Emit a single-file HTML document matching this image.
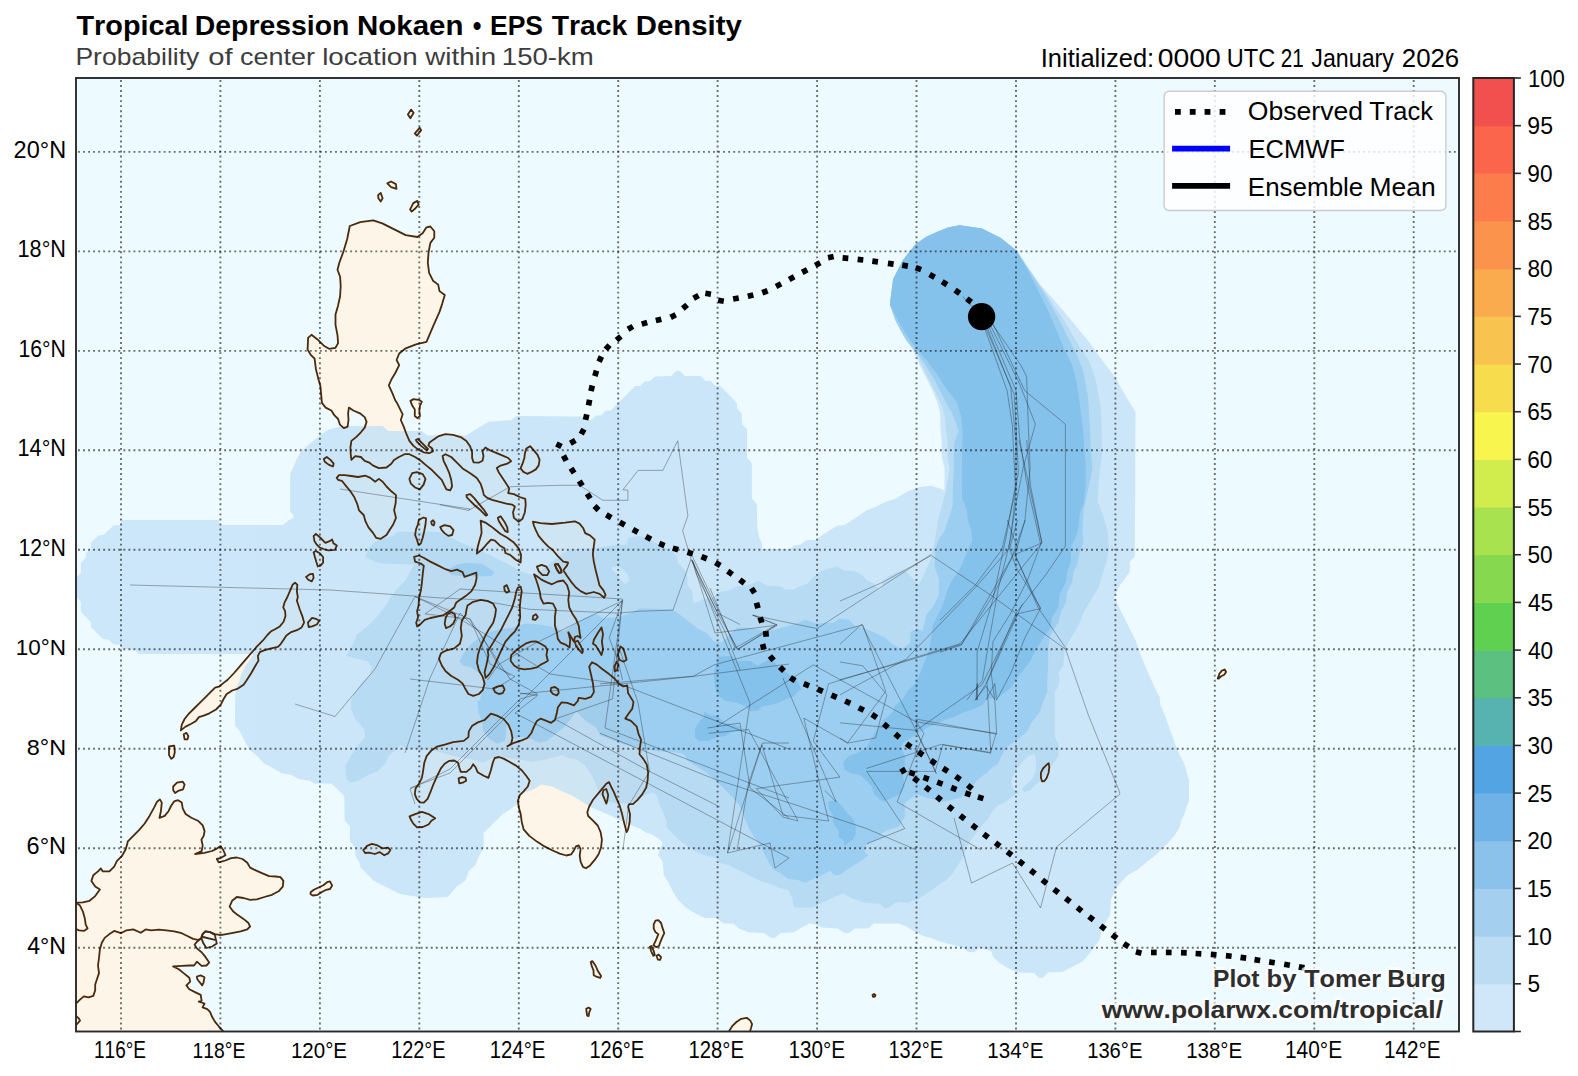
<!DOCTYPE html>
<html><head><meta charset="utf-8"><title>EPS Track Density</title>
<style>html,body{margin:0;padding:0;background:#fff}body{width:1578px;height:1076px;overflow:hidden;font-family:"Liberation Sans",sans-serif}svg{display:block}text{font-family:"Liberation Sans",sans-serif;font-kerning:none;font-variant-ligatures:none}</style>
</head><body>
<svg width="1578" height="1076" viewBox="0 0 1578 1076">
<defs><clipPath id="mc"><rect x="76" y="78" width="1383" height="953.5"/></clipPath></defs>
<rect x="0" y="0" width="1578" height="1076" fill="#ffffff"/>
<rect x="76" y="78" width="1383" height="953.5" fill="#edfaff"/>
<g clip-path="url(#mc)">
<g fill="#fdf5e8" stroke="none">
<polygon points="416.0,439.9 417.9,439.0 423.6,444.7 428.0,449.0 426.8,450.4 420.8,445.6 416.6,441.4"/>
<polygon points="410.4,400.9 413.5,399.1 418.7,399.8 421.9,401.7 420.0,405.6 419.3,410.8 420.0,416.0 417.4,418.1 414.8,416.0 414.8,409.5 412.2,405.6"/>
<polygon points="323.8,458.9 326.7,457.0 330.5,459.9 333.7,463.7 332.9,466.5 328.6,464.6 324.8,461.8"/>
<polygon points="336.7,477.9 339.0,475.1 344.7,475.1 351.4,476.0 358.0,477.0 365.6,475.7 370.4,477.9 375.1,481.7 378.9,478.9 382.7,481.7 386.5,486.5 391.3,491.3 396.0,495.1 395.7,502.7 394.1,510.3 396.0,517.9 393.2,524.5 389.4,530.2 386.5,535.0 380.8,538.8 376.1,537.8 373.2,533.1 368.5,527.4 365.6,521.7 363.7,515.0 359.0,510.3 357.1,503.6 354.2,497.0 350.4,491.3 345.7,485.6 341.9,480.8 338.1,479.8"/>
<polygon points="412.2,473.2 417.0,472.2 422.7,474.1 425.5,478.9 423.6,484.6 419.8,489.4 415.1,487.5 410.9,483.7 409.4,478.9"/>
<polygon points="466.4,495.1 470.2,494.1 474.0,497.9 478.7,503.6 483.5,509.3 487.3,515.0 485.8,515.6 480.6,510.3 474.9,505.5 470.2,500.8 466.8,497.3"/>
<polygon points="497.8,517.9 500.6,516.3 504.4,521.7 507.3,527.4 507.8,532.1 505.4,531.2 501.6,525.5 498.7,520.7"/>
<polygon points="480.6,520.7 485.4,522.6 491.1,526.4 495.9,530.2 500.6,534.0 507.3,537.8 513.9,542.6 518.7,548.3 521.1,554.9 520.6,562.5 515.8,559.7 510.1,554.9 505.4,553.0 504.4,548.3 499.7,545.4 494.9,540.7 491.1,539.7 487.3,543.5 482.5,549.2 476.8,553.6 477.8,546.4 479.7,539.7 481.6,533.1 481.2,526.4"/>
<polygon points="418.9,519.8 423.6,517.5 426.1,518.3 425.5,524.5 424.2,531.2 422.7,537.8 420.8,543.5 418.5,544.9 417.0,539.7 415.1,535.0 416.0,529.3 417.9,524.5"/>
<polygon points="431.2,521.7 433.1,520.2 434.6,522.6 433.7,525.5 431.8,524.5"/>
<polygon points="440.2,527.0 444.5,525.1 450.2,526.4 453.5,530.2 452.1,535.0 448.3,535.9 444.5,533.1 441.7,530.2"/>
<polygon points="526.3,448.5 530.1,446.2 533.9,450.4 537.7,455.1 539.6,459.9 538.6,465.6 535.8,469.4 531.0,472.2 527.2,473.8 523.4,471.9 520.6,468.4 522.5,463.7 524.4,458.0 524.9,453.2"/>
<polygon points="414.1,556.8 418.9,555.5 423.6,557.8 430.3,561.6 437.9,565.4 445.5,569.2 451.2,571.1 456.9,569.6 462.6,572.1 464.5,576.8 470.2,574.9 476.3,572.6 476.6,578.1 475.1,584.7 471.3,591.4 465.6,596.1 459.9,599.9 456.1,602.8 454.2,607.5 449.4,611.3 443.7,615.1 437.1,616.7 430.4,618.0 424.7,619.9 420.9,623.7 417.1,626.5 416.2,622.7 418.1,617.0 417.1,611.3 418.6,605.6 419.0,598.0 420.9,590.4 421.9,582.8 422.8,573.3 423.8,565.7 420.8,563.5 415.1,561.6"/>
<polygon points="447.5,614.2 451.3,612.3 454.8,614.2 455.5,618.9 453.2,623.7 449.8,626.5 446.0,628.1 444.7,623.7 445.6,618.0"/>
<polygon points="467.5,605.6 473.2,601.8 480.8,599.9 487.5,600.9 493.2,603.7 496.0,609.4 495.1,616.1 493.2,622.7 489.4,628.4 485.6,635.1 482.7,641.7 479.8,648.4 477.9,655.1 477.0,662.7 478.9,670.3 482.7,676.9 484.6,683.6 482.7,690.2 478.9,694.0 473.2,695.9 468.4,694.0 465.6,689.3 462.7,683.6 458.0,679.8 451.3,676.0 445.6,671.2 441.8,665.5 439.0,658.9 440.9,653.2 446.6,650.3 454.2,648.4 459.9,643.7 461.8,636.0 460.8,628.4 461.8,620.8 465.6,615.1 466.5,609.4"/>
<polygon points="517.9,587.6 520.7,586.6 521.7,591.4 520.7,598.0 519.8,607.5 520.2,617.0 518.8,624.6 515.0,631.3 510.3,636.0 505.5,641.7 501.7,649.4 497.9,657.9 494.1,666.5 489.4,674.1 485.6,677.9 484.6,672.2 486.5,664.6 488.4,655.1 487.8,651.3 491.3,645.6 496.0,637.9 500.8,630.3 504.6,622.7 508.4,615.1 512.2,607.5 515.0,598.0 516.3,591.4"/>
<polygon points="504.2,586.6 506.8,585.1 509.3,591.4 506.5,592.7 504.6,590.4"/>
<polygon points="511.2,655.1 515.0,651.3 519.8,647.5 525.5,643.7 531.2,641.7 535.9,641.4 540.7,643.7 545.4,646.5 547.3,650.3 546.4,655.1 547.9,660.8 544.5,662.7 540.7,664.6 536.9,667.4 531.2,668.7 524.5,669.3 518.8,668.4 514.1,665.5 510.6,660.8"/>
<polygon points="493.2,688.3 497.9,686.4 502.7,685.5 504.6,689.3 502.7,693.1 498.9,694.0 495.1,692.1"/>
<polygon points="551.1,687.8 554.9,687.0 558.2,689.3 558.7,693.1 556.8,695.4 553.0,694.0 550.6,691.2"/>
<polygon points="533.1,616.1 535.9,614.2 537.8,617.0 535.4,619.9 532.7,619.3"/>
<polygon points="534.0,574.3 537.6,576.7 541.4,579.6 547.1,582.4 551.9,584.3 557.6,581.5 563.3,580.5 567.1,585.3 569.2,592.3 568.3,599.9 569.2,607.5 572.1,613.2 575.9,618.9 578.7,625.6 579.7,633.2 580.6,637.9 577.8,636.0 574.9,637.0 574.0,641.7 571.1,637.0 568.3,632.2 570.2,639.8 569.6,647.5 565.4,644.6 560.6,642.7 557.8,638.9 556.8,632.2 554.9,625.6 554.9,617.0 555.9,609.4 553.0,603.7 548.3,602.8 543.5,603.7 540.7,598.0 539.7,591.4 537.8,584.7 535.9,579.0"/>
<polygon points="536.9,566.7 541.6,564.8 546.4,566.7 549.2,571.4 547.3,575.2 542.6,575.2 538.8,571.4"/>
<polygon points="554.9,564.8 557.8,563.8 560.6,568.6 561.6,572.4 559.3,572.9 556.8,569.1"/>
<polygon points="574.9,641.7 577.8,640.8 580.6,645.6 582.9,651.3 582.1,653.2 578.7,649.4 575.9,645.6"/>
<polygon points="532.9,521.7 540.5,523.2 551.9,524.0 565.2,522.6 574.8,521.3 579.5,523.6 583.3,528.3 585.2,533.1 590.0,535.4 594.7,539.7 593.8,546.4 592.8,554.0 593.8,561.6 595.7,570.2 597.6,577.8 599.5,585.4 603.3,590.1 605.6,594.9 604.2,597.7 599.5,593.9 593.8,592.0 586.2,593.9 580.5,591.1 575.7,587.3 571.0,581.6 567.1,575.9 563.3,570.2 567.1,565.4 568.1,562.5 563.3,561.6 557.6,555.9 552.9,550.2 548.1,546.4 543.4,541.6 538.6,535.9 535.8,530.2 533.9,525.5"/>
<polygon points="554.8,564.4 557.6,563.9 560.5,568.3 561.4,572.1 559.2,573.0 556.7,569.2"/>
<polygon points="593.9,639.8 597.7,633.2 601.5,627.5 603.0,634.1 601.9,641.7 603.0,649.4 601.5,655.1 598.7,650.3 595.8,645.6 593.0,643.7"/>
<polygon points="617.7,655.1 620.5,646.5 623.4,648.4 625.3,655.1 626.6,659.8 623.4,661.7 619.6,659.8"/>
<polygon points="614.4,666.5 616.7,661.7 618.3,664.6 617.1,670.3 614.8,671.2"/>
<polygon points="490.9,713.7 497.0,715.6 503.6,719.0 508.4,724.7 511.2,731.4 512.5,738.0 511.2,743.7 507.4,746.2 514.1,742.8 521.7,740.3 527.4,738.0 531.2,733.3 534.0,726.6 536.9,720.9 540.7,718.6 546.4,720.9 551.1,722.8 554.9,720.0 556.8,713.3 557.8,707.6 561.6,702.3 567.3,702.9 574.0,705.3 577.8,701.0 578.7,697.8 585.4,698.8 591.1,696.9 593.9,692.1 593.0,683.6 591.1,675.0 589.2,666.5 592.0,662.3 596.8,664.6 602.5,669.3 609.1,674.1 614.8,678.8 618.6,683.6 623.4,686.4 627.2,685.5 628.1,693.1 633.5,701.9 632.3,708.6 628.1,714.3 625.3,718.6 631.0,720.9 636.7,726.6 638.6,734.2 641.1,739.9 639.9,747.5 639.5,754.2 643.3,758.9 646.8,764.6 648.1,772.2 647.7,779.8 646.2,787.5 642.4,794.1 637.6,799.8 632.9,804.2 629.1,804.2 628.1,806.5 630.0,814.1 629.7,821.7 628.1,829.3 626.6,832.1 624.3,823.6 622.1,814.1 619.6,805.5 616.7,798.9 613.9,792.2 611.0,786.5 609.1,782.1 606.3,783.7 602.5,788.4 597.7,794.1 593.0,799.8 589.2,806.5 587.3,812.2 588.2,816.0 593.0,820.7 597.7,825.5 600.6,832.1 601.9,839.7 601.1,847.3 598.7,854.0 594.9,859.7 590.1,865.4 585.9,868.3 582.9,866.9 580.6,861.6 579.7,855.9 580.6,849.2 578.7,845.4 575.9,846.4 574.0,850.2 571.1,854.4 566.3,855.5 559.7,853.6 552.1,850.2 544.5,846.4 536.9,841.6 529.3,835.9 523.6,829.3 521.7,821.7 520.7,814.1 518.8,807.4 517.9,800.8 519.8,795.1 523.6,791.3 527.8,786.5 529.7,780.8 526.4,776.0 521.7,770.3 516.0,765.6 509.3,761.8 503.6,758.6 498.9,757.0 494.7,758.0 492.8,762.7 490.9,770.3 488.4,777.9 483.7,775.7 477.6,772.2 475.7,767.5 473.2,764.3 470.7,768.4 466.5,771.9 460.8,771.9 459.3,767.5 458.0,762.7 454.2,760.5 449.4,760.8 444.7,763.7 440.9,768.4 437.1,776.0 433.3,784.6 430.4,792.2 427.6,798.9 423.8,802.7 420.0,802.3 416.7,798.9 414.8,794.1 415.6,788.4 419.0,783.7 421.9,777.9 423.2,770.3 424.3,762.7 426.6,756.1 431.4,750.4 437.1,746.6 444.7,744.7 453.2,742.2 463.7,740.9 468.4,737.1 468.8,731.4 472.2,725.7 477.9,722.4 484.6,720.0"/>
<polygon points="603.4,790.3 606.3,789.0 608.2,795.1 607.2,800.8 606.3,803.6 604.4,798.9 602.5,794.1"/>
<polygon points="409.5,816.3 415.2,814.1 421.9,811.8 428.5,814.1 435.2,818.3 431.4,820.7 428.5,824.5 422.8,827.0 417.1,827.4 413.3,823.6 411.0,819.8"/>
<polygon points="458.6,778.3 461.8,777.0 465.6,777.9 466.2,780.8 462.7,782.7 459.3,783.3"/>
<polygon points="321.9,402.9 325.7,407.6 331.4,410.5 334.3,415.2 338.1,419.0 340.0,424.7 343.8,428.1 347.6,426.6 348.5,420.0 348.1,413.3 348.9,407.6 353.3,410.5 359.9,413.3 364.7,417.1 366.6,421.9 364.7,427.6 360.9,432.3 356.1,437.1 351.4,440.9 350.4,447.5 350.8,455.1 351.4,459.9 355.2,456.1 360.9,457.0 364.7,460.8 369.4,462.7 373.2,465.6 378.9,468.1 386.5,467.5 391.3,463.7 394.1,459.9 398.9,457.0 404.6,454.2 409.4,454.2 415.1,457.0 420.8,460.8 426.5,465.6 432.2,470.3 436.9,475.1 441.7,479.8 444.5,485.6 446.4,489.4 450.2,490.3 452.1,486.5 451.2,479.8 449.3,473.2 446.4,466.5 443.6,460.8 442.6,456.1 445.5,454.2 451.2,457.0 456.9,462.7 462.6,468.4 470.2,473.2 476.8,477.9 480.6,483.7 482.5,489.4 483.9,495.1 487.3,497.9 492.1,499.8 498.7,501.7 506.3,503.6 512.0,504.6 514.9,506.5 513.0,512.2 513.9,517.9 518.7,521.7 522.5,518.8 524.9,512.2 525.7,504.6 525.3,498.9 519.6,497.0 513.9,494.1 508.2,493.2 509.2,488.4 506.3,483.7 502.5,477.9 498.7,472.2 496.8,468.1 500.6,465.6 507.3,463.7 511.1,461.2 508.2,458.0 501.6,455.1 494.9,452.3 490.2,450.4 485.4,447.5 482.5,451.3 483.5,456.1 482.5,460.8 478.7,462.7 473.6,462.4 472.1,458.0 472.1,452.3 470.2,446.6 466.4,440.9 460.7,437.1 453.1,434.8 445.5,434.2 438.8,436.1 433.1,439.9 429.3,442.8 428.4,445.6 432.2,448.5 433.1,451.3 429.3,453.2 423.6,452.3 417.9,449.4 413.2,445.6 409.4,440.9 406.5,434.2 403.7,426.6 400.8,420.0 402.7,414.3 399.8,408.6 397.0,402.9 395.1,400.0 392.7,393.9 388.8,385.3 391.4,379.5 395.3,373.0 399.2,365.2 396.6,360.0 399.2,353.5 405.7,348.3 416.1,344.4 426.5,341.8 430.4,332.7 434.3,323.6 439.5,311.9 442.1,304.1 444.8,295.0 439.5,291.1 438.2,284.6 433.0,280.7 429.1,272.9 427.8,262.5 428.6,252.0 430.4,242.9 434.3,237.7 434.3,231.2 430.4,226.5 426.5,227.3 422.6,233.3 417.4,237.0 405.7,235.1 395.3,229.9 382.3,223.4 373.2,220.3 360.2,222.1 349.8,226.0 347.2,239.0 343.3,252.0 339.4,262.5 337.5,269.7 340.1,276.8 340.7,285.9 340.1,296.3 338.1,305.4 335.5,314.5 335.5,324.9 337.5,335.3 338.1,343.1 335.5,347.8 329.0,348.8 323.8,345.7 317.2,339.2 311.5,334.8 308.1,337.9 307.6,349.6 310.7,354.8 314.6,358.7 315.9,369.1 318.5,379.5 320.4,386.1"/>
<polygon points="407.9,114.4 411.1,109.6 413.6,112.8 410.4,118.2"/>
<polygon points="414.9,133.4 419.6,127.7 421.2,130.2 416.8,135.6"/>
<polygon points="387.3,183.4 391.1,181.5 395.9,184.1 396.5,188.8 391.1,187.2"/>
<polygon points="378.1,195.2 380.7,192.9 382.6,198.3 380.7,201.5 378.4,198.3"/>
<polygon points="410.1,209.4 413.3,203.1 417.4,200.9 418.7,204.7 414.9,208.8 411.7,211.6"/>
<polygon points="313.6,536.1 315.9,533.8 320.6,538.0 325.4,542.8 330.2,540.9 332.1,539.5 333.4,543.3 336.8,545.6 334.9,549.8 328.3,550.4 323.5,549.0 319.7,547.5 316.8,544.7 314.4,540.9"/>
<polygon points="313.6,552.3 315.9,551.0 319.7,553.2 323.1,557.0 323.1,562.7 320.6,565.6 317.8,566.5 316.3,561.8 314.9,557.0"/>
<polygon points="306.0,577.0 310.2,574.1 313.0,573.8 313.6,577.9 311.7,581.4 308.3,579.8"/>
<polygon points="307.9,622.6 312.1,617.9 315.9,618.8 319.3,620.7 316.8,624.5 312.1,626.4 308.7,627.0"/>
<polygon points="295.0,582.7 297.3,584.6 296.9,591.3 297.8,597.0 296.9,600.8 299.7,609.3 302.6,616.9 304.1,622.6 301.6,627.4 296.9,630.2 291.2,632.1 286.4,635.4 283.6,639.7 280.7,644.1 277.9,646.8 271.2,648.3 264.6,650.2 259.8,652.1 257.9,655.9 258.5,660.6 255.1,666.3 251.3,673.0 246.5,680.6 243.6,684.8 237.9,688.6 232.2,690.5 226.5,694.3 223.6,699.0 220.8,704.7 216.0,709.5 209.4,713.3 203.7,715.7 198.9,717.1 196.0,720.9 191.3,723.7 185.6,726.6 180.8,730.4 181.8,724.7 184.6,719.0 188.4,714.2 194.1,708.5 199.8,702.8 205.6,697.1 211.3,691.4 215.1,687.6 218.9,686.7 223.6,682.9 227.4,680.0 234.1,673.0 239.8,666.3 245.6,659.7 251.3,653.0 257.0,646.4 262.7,640.7 267.4,635.0 271.2,631.2 275.0,629.3 279.8,626.4 283.6,621.7 285.5,616.0 285.1,611.2 283.2,607.4 284.5,602.7 287.4,597.0 290.2,590.3 292.7,584.6"/>
<polygon points="183.7,734.2 186.5,732.9 188.4,736.1 187.5,739.3 184.6,739.3"/>
<polygon points="169.0,746.5 174.2,745.6 174.8,752.2 173.6,757.0 171.3,758.9 169.0,755.1"/>
<polygon points="173.2,786.5 177.0,782.7 182.7,781.7 184.6,784.6 183.1,789.3 178.9,790.6 175.1,793.1 173.2,790.3"/>
<polygon points="363.3,850.2 367.1,845.8 371.9,843.9 377.6,845.4 382.4,848.3 388.1,847.7 390.3,850.2 388.1,853.4 384.3,855.3 379.5,852.1 374.8,854.0 369.0,852.6 365.2,853.0"/>
<polygon points="60.0,902.7 76.0,902.7 82.8,902.4 89.5,900.8 95.2,896.1 99.9,889.4 95.2,886.6 91.4,880.9 93.3,875.2 98.0,871.4 100.9,868.5 102.8,871.4 109.4,871.4 114.2,866.6 117.0,860.9 121.8,856.2 125.6,849.5 127.5,842.9 127.6,841.6 133.3,835.9 139.0,830.2 144.7,823.5 149.5,815.9 154.2,807.4 157.1,801.7 159.9,799.4 161.8,802.6 160.9,811.2 159.5,817.8 164.7,815.9 168.5,811.2 171.3,805.5 174.2,801.3 178.0,800.2 181.8,802.6 182.7,808.3 185.6,814.0 191.3,817.8 197.9,820.7 202.7,825.4 204.6,831.1 203.7,835.9 201.4,839.7 202.7,845.4 201.7,851.1 195.1,854.0 204.5,852.9 212.1,851.0 216.8,848.6 220.6,846.1 223.5,850.5 225.4,855.2 220.6,858.1 216.8,859.0 218.7,862.4 225.4,860.5 231.1,858.1 236.8,857.5 242.5,859.0 247.3,862.8 250.1,867.6 255.8,870.4 262.5,873.3 269.1,876.1 275.8,876.5 280.5,877.1 283.4,880.9 282.8,886.6 278.6,891.3 272.0,894.8 264.4,897.0 256.8,899.3 250.1,899.9 243.5,898.0 236.8,897.0 232.1,900.8 229.6,906.5 233.0,911.3 237.8,915.1 243.5,918.9 248.2,922.7 250.1,926.5 247.3,929.4 240.6,931.3 233.0,932.8 226.3,934.1 220.6,935.1 214.9,934.1 210.2,932.2 205.4,931.3 202.6,934.1 200.7,938.9 196.9,941.7 194.6,944.6 196.9,948.4 201.6,952.2 205.4,956.9 209.2,962.6 206.4,965.5 201.6,965.9 196.9,961.7 194.0,965.5 189.3,965.5 181.7,965.9 173.1,966.4 178.8,969.3 183.6,973.1 189.3,977.8 190.2,981.6 186.4,985.4 189.3,989.2 195.0,992.1 200.7,994.9 201.6,1000.6 198.8,1001.6 204.5,1003.5 202.6,1007.3 207.3,1009.2 210.2,1012.1 212.1,1016.8 214.9,1021.6 218.7,1026.3 223.1,1031.1 224.0,1050.0 60.0,1050.0"/>
<polygon points="196.9,976.5 200.7,975.4 204.5,977.3 203.5,982.6 202.2,985.4 199.7,982.2 197.3,979.2"/>
<polygon points="310.6,892.3 313.8,889.8 318.6,887.5 323.3,885.2 327.1,882.2 330.0,881.4 332.2,885.6 330.0,889.0 326.2,889.8 322.4,891.7 317.6,894.8 312.9,895.5 310.6,894.2"/>
<polygon points="655.5,920.6 658.3,920.2 661.1,923.0 662.5,927.9 664.3,933.2 662.5,936.9 660.4,941.8 659.0,946.0 656.2,947.1 653.4,945.3 655.5,941.1 657.6,936.2 658.3,934.2 655.5,932.1 653.7,928.6 653.7,924.4"/>
<polygon points="649.9,946.7 651.3,946.0 653.7,950.9 654.8,955.1 653.4,955.8 651.3,951.6"/>
<polygon points="656.5,955.8 658.7,954.6 661.1,957.2 660.1,959.9 657.9,959.7"/>
<polygon points="590.7,962.0 592.3,961.1 595.5,965.5 597.9,971.1 601.1,976.0 600.2,977.8 596.5,976.7 593.7,975.3 593.5,970.4 591.8,966.2"/>
<polygon points="586.2,1008.7 588.6,1007.6 590.7,1009.0 589.3,1012.2 588.6,1016.0 587.2,1015.7 586.5,1011.5"/>
<polygon points="728.7,1031.7 732.2,1026.2 736.4,1022.0 741.2,1018.8 746.8,1017.8 750.3,1020.6 752.1,1024.1 751.0,1028.3 749.9,1031.7 749.9,1039.4 728.7,1039.4"/>
<polygon points="1040.9,772.7 1043.0,768.5 1045.8,765.7 1048.6,763.2 1049.3,767.1 1048.6,772.7 1046.5,778.3 1044.4,781.0 1042.0,781.3 1040.9,777.6"/>
<polygon points="1217.7,678.6 1219.4,673.7 1221.9,670.6 1224.7,669.5 1226.1,672.0 1224.2,674.8 1220.8,676.5 1218.7,678.6"/>
<polygon points="872.5,995.0 874.0,994.0 875.5,995.0 875.0,996.5 873.0,996.8"/>
</g>
<g opacity="0.8" stroke="none">
<polygon fill="#c3e2f7" points="959.6,225.3 981.8,228.5 1000.8,238.0 1016.7,250.7 1029.0,273.0 1045.0,290.0 1061.0,308.0 1075.0,325.0 1089.5,342.6 1102.0,360.0 1115.0,377.0 1125.0,395.0 1135.5,412.0 1134.8,556.7 1129.8,561.8 1129.8,572.0 1120.4,584.6 1114.0,597.3 1120.4,610.0 1128.0,625.2 1135.6,640.4 1141.9,658.1 1149.5,675.9 1154.7,687.6 1159.5,697.1 1160.4,704.7 1165.2,716.1 1169.0,727.5 1172.8,737.0 1176.6,748.4 1180.0,756.0 1184.0,763.0 1189.0,780.0 1189.0,800.0 1184.0,815.0 1181.4,820.0 1179.5,827.6 1174.7,835.2 1166.2,844.7 1156.7,854.2 1147.1,861.8 1137.6,869.4 1128.1,875.1 1120.5,882.7 1114.8,890.3 1111.0,899.8 1110.1,915.1 1105.3,922.7 1101.5,930.3 1099.6,939.8 1093.9,947.4 1088.2,955.0 1082.5,961.6 1074.9,965.4 1067.3,969.2 1062.5,972.1 1048.3,972.5 1042.6,977.8 1038.8,977.8 1034.0,973.0 1017.9,972.5 1008.4,968.3 998.9,962.6 993.2,956.9 991.3,951.2 979.8,947.4 974.1,952.1 968.4,952.1 962.7,947.4 955.1,945.5 947.5,943.6 938.0,940.7 930.9,937.9 923.3,936.0 915.7,932.2 906.2,926.5 898.6,923.6 873.8,923.6 868.1,928.4 854.8,928.4 849.1,933.1 844.4,933.1 837.7,928.4 822.5,927.4 814.9,924.6 809.2,923.6 801.6,927.4 794.0,932.2 780.7,933.1 775.0,937.9 771.2,937.9 763.6,933.1 748.4,932.2 738.9,928.4 733.2,923.6 723.7,923.6 716.0,917.9 704.6,917.9 695.1,913.2 685.6,907.5 678.0,899.8 673.3,892.2 668.5,882.7 663.8,875.1 662.8,861.8 658.1,855.2 659.0,851.4 662.8,842.8 659.0,839.0 651.4,834.3 645.7,832.4 640.0,828.6 628.5,824.5 619.0,819.7 609.5,815.0 600.0,811.0 589.2,806.5 580.6,800.8 571.1,795.1 561.6,791.3 552.1,786.5 541.6,784.6 533.1,789.4 521.7,793.5 517.9,803.6 510.3,809.3 502.7,814.1 493.2,823.6 483.7,833.1 483.7,848.3 478.9,855.9 475.1,865.4 468.8,871.1 465.6,880.6 457.0,886.3 447.5,897.0 425.0,898.0 400.0,894.0 380.0,884.0 372.9,880.0 365.2,872.0 360.5,867.3 359.5,862.5 355.7,856.8 354.8,847.3 350.0,841.6 350.0,826.4 344.7,820.7 344.3,796.0 336.7,788.4 331.0,783.6 313.9,783.6 310.1,780.8 298.7,778.9 291.1,775.1 281.6,773.2 272.1,767.5 264.5,763.7 256.9,756.0 249.3,749.4 244.5,740.8 239.8,731.3 235.0,725.6 235.1,700.0 236.0,687.3 239.8,680.6 240.8,674.9 245.6,665.4 251.3,657.8 253.2,654.0 138.6,653.9 135.2,649.7 121.9,648.9 120.2,644.7 113.5,644.2 108.5,639.7 102.6,638.8 90.9,627.1 90.9,622.1 80.9,612.1 80.9,602.0 76.4,597.0 70.0,597.0 70.0,577.8 76.4,577.8 80.9,572.8 80.9,562.7 85.9,557.7 85.9,553.5 90.9,548.5 90.9,542.7 98.4,535.5 103.5,535.1 113.5,525.4 120.2,525.1 121.9,520.1 218.9,520.1 218.9,525.1 283.1,525.0 288.1,520.7 293.2,518.1 293.7,515.6 290.2,511.8 290.2,473.8 293.2,467.5 297.0,458.6 300.8,452.2 307.2,445.9 313.5,440.8 321.1,434.5 328.7,429.4 338.8,427.0 349.0,426.0 382.7,425.9 388.3,430.9 421.7,430.9 427.3,435.6 466.4,435.6 474.7,430.1 488.7,421.7 511.0,420.3 516.6,416.1 581.5,416.4 585.4,420.3 591.2,420.3 596.1,415.4 601.0,415.4 605.9,410.5 610.8,410.5 635.2,386.1 640.0,386.1 644.9,381.2 649.8,381.2 654.7,376.4 671.3,376.0 676.1,371.1 680.0,371.1 684.9,376.0 700.5,376.0 705.4,380.8 710.3,380.8 715.2,385.7 720.1,385.7 736.7,402.7 737.2,408.6 741.5,413.4 742.1,424.2 747.0,429.1 747.0,457.4 751.9,463.2 751.9,498.3 756.8,504.2 757.2,525.7 759.1,537.4 762.0,543.2 762.0,549.1 790.3,549.1 794.2,545.2 800.1,544.8 806.0,540.3 815.7,539.9 821.6,535.4 829.4,530.6 837.2,525.7 845.0,524.7 852.8,519.8 860.0,514.9 866.2,510.5 875.7,506.7 885.2,501.9 896.0,498.4 908.7,490.8 920.0,487.0 931.5,485.8 944.6,490.1 944.6,468.7 941.8,457.5 941.8,440.8 940.3,427.8 940.3,412.9 937.1,401.8 932.5,390.6 926.0,377.6 919.5,364.6 913.9,351.6 906.5,340.4 900.0,329.3 895.3,320.0 889.9,304.6 893.1,279.2 903.0,260.0 915.3,244.4 926.0,237.0 937.4,231.7 948.0,227.5"/>
<polygon fill="#acd4f2" points="365.2,557.0 368.0,549.4 373.7,542.8 381.3,539.0 392.7,536.1 396.5,532.3 406.0,531.4 417.5,532.3 428.9,531.4 440.3,532.3 451.7,538.0 461.2,542.8 470.7,546.6 480.2,550.4 489.7,555.1 497.3,558.9 508.7,564.6 518.2,570.3 527.7,574.1 535.3,576.0 539.1,572.2 548.6,564.6 558.1,557.0 568.6,549.4 600.0,547.5 611.4,545.6 626.6,544.7 628.5,538.0 638.0,536.1 645.6,537.1 655.1,542.8 664.6,547.5 672.2,551.3 677.0,557.0 677.9,562.7 683.7,568.4 687.5,576.0 687.5,585.6 692.2,591.3 693.2,602.7 698.9,601.7 703.6,598.9 714.1,597.0 717.9,592.2 729.3,590.3 736.9,586.5 744.5,585.6 752.1,583.7 757.8,580.8 763.5,583.7 767.3,585.6 780.6,586.5 785.4,589.4 793.9,589.4 799.6,586.5 807.2,583.7 811.0,579.8 816.7,574.1 822.4,570.3 830.0,568.4 837.6,566.5 843.3,570.3 854.8,571.3 862.4,575.1 866.2,579.8 873.8,583.7 879.5,589.4 883.3,585.6 881.4,581.7 889.0,576.0 896.6,572.2 903.7,569.4 918.9,584.6 925.2,572.0 931.5,556.7 935.0,539.0 938.1,520.0 941.8,505.9 945.5,492.9 947.4,481.7 949.6,468.7 947.4,457.5 947.4,440.8 945.9,427.8 944.6,414.8 941.8,405.5 936.2,394.3 929.7,381.3 922.3,366.5 915.8,351.6 906.5,340.4 900.0,329.3 895.3,320.0 889.9,304.6 893.1,279.2 903.0,260.0 915.3,244.4 926.0,237.0 937.4,231.7 948.0,227.5 959.6,225.3 981.8,228.5 1000.8,238.0 1016.7,250.7 1034.1,276.0 1051.5,301.4 1064.2,320.4 1076.9,342.6 1089.5,361.6 1095.9,380.6 1100.6,406.0 1101.6,428.1 1101.9,455.3 1098.8,480.7 1097.6,501.0 1102.6,513.6 1107.7,531.4 1109.0,549.1 1106.4,561.8 1102.6,574.5 1098.8,587.2 1091.2,599.8 1083.6,612.5 1078.6,625.2 1071.0,637.9 1064.6,650.5 1063.3,665.7 1058.3,673.3 1059.6,680.0 1058.7,685.7 1054.9,691.4 1054.9,737.0 1058.7,744.6 1058.7,756.0 1053.0,763.7 1047.3,771.3 1041.6,778.9 1035.9,784.6 1030.2,790.3 1024.5,792.2 1021.6,789.3 1026.4,784.6 1032.1,778.9 1035.9,771.3 1035.9,759.8 1034.0,754.1 1028.3,756.0 1022.6,761.8 1016.9,769.4 1012.1,777.0 1011.2,783.6 1013.1,788.4 1018.8,792.2 1013.1,796.0 1005.5,801.7 997.9,805.5 992.2,811.2 988.4,818.8 982.7,824.5 977.0,832.1 971.3,839.7 966.5,847.3 963.7,854.9 959.8,862.5 956.0,868.2 952.2,873.9 946.5,880.0 941.8,882.7 934.2,888.4 924.7,895.1 917.1,898.9 907.6,902.7 900.0,901.7 894.7,902.7 889.0,907.5 885.2,908.4 879.5,903.7 864.3,902.7 851.0,897.9 843.4,893.2 832.0,897.9 822.5,902.7 811.1,907.8 794.0,907.5 792.1,897.9 788.3,890.3 778.8,887.5 771.2,884.6 759.8,880.8 752.2,877.0 744.6,873.2 737.0,869.4 729.4,865.6 719.8,862.8 716.0,858.0 704.6,855.2 695.1,851.4 685.6,844.7 678.0,839.0 672.3,833.3 666.6,827.6 666.5,820.7 662.7,811.2 658.9,803.6 657.0,796.0 653.2,792.2 647.5,794.1 630.4,803.6 617.1,803.6 607.6,801.7 600.0,795.0 594.3,780.8 590.5,773.2 584.8,765.6 577.2,759.8 567.6,757.9 562.0,755.1 558.1,756.0 544.8,759.8 531.5,761.7 520.1,759.8 495.4,756.0 489.7,759.8 482.0,762.7 474.5,759.8 463.1,758.0 453.6,756.0 444.0,753.2 432.7,750.3 419.4,749.4 406.0,748.8 401.3,745.6 396.5,748.4 388.9,756.0 385.1,763.7 377.5,771.3 368.0,775.1 358.5,780.8 350.9,782.7 346.2,778.9 345.2,765.6 350.9,756.0 358.5,744.6 365.2,737.0 364.2,729.4 354.7,718.0 350.9,708.5 351.0,701.0 355.0,692.0 362.0,682.0 369.9,674.9 371.8,667.3 368.0,661.6 352.8,657.8 346.2,655.9 352.8,644.5 356.6,635.0 368.0,625.5 377.5,616.0 385.1,606.5 390.8,597.0 396.5,589.4 406.0,579.8 413.7,564.6 387.0,563.7 377.5,562.7"/>
<polygon fill="#c3e2f7" points="612.0,566.5 620.6,567.5 627.3,573.2 629.2,580.8 625.4,584.2 620.6,579.8 616.8,574.1 612.0,569.4"/>
<polygon fill="#89c4ee" points="459.3,661.6 463.1,654.0 470.7,644.5 480.2,636.9 491.6,631.2 501.1,629.3 512.5,627.4 525.8,623.6 539.1,624.5 550.5,626.4 563.8,631.2 575.3,623.6 584.8,617.9 596.2,614.1 603.8,618.8 605.7,617.9 619.0,616.9 628.5,614.1 639.9,608.4 657.0,608.7 672.2,609.3 681.7,616.0 691.3,623.6 698.9,629.3 706.5,633.1 714.1,641.6 721.7,642.6 729.3,635.0 736.9,627.4 744.5,627.4 757.8,629.3 767.3,631.2 776.8,629.3 786.3,626.4 795.8,623.6 805.3,619.8 816.7,623.6 833.8,622.6 839.5,618.8 849.0,619.8 854.8,625.5 866.2,629.3 875.7,633.1 885.2,637.8 892.8,644.5 900.0,648.0 903.7,648.0 910.0,642.9 910.7,631.5 918.9,629.0 922.7,631.5 923.9,625.2 926.5,615.0 934.1,604.9 938.6,594.8 939.1,579.5 934.6,566.9 935.3,549.1 939.1,539.0 944.2,531.4 949.3,516.2 952.9,505.0 952.6,498.4 952.9,487.3 953.9,468.7 953.9,450.1 954.8,440.8 958.5,431.5 955.7,422.2 952.0,412.9 946.4,403.6 940.9,392.5 934.3,379.5 925.1,364.6 915.8,351.6 906.5,340.4 900.0,329.3 895.3,320.0 889.9,304.6 893.1,279.2 903.0,260.0 915.3,244.4 926.0,237.0 937.4,231.7 948.0,227.5 959.6,225.3 981.8,228.5 1000.8,238.0 1016.7,250.7 1032.5,276.0 1045.2,295.1 1057.9,317.2 1068.9,339.4 1076.9,355.3 1083.2,371.1 1087.9,396.5 1089.5,421.8 1090.0,430.0 1091.2,455.3 1092.5,468.0 1087.4,493.4 1083.6,511.1 1082.4,531.4 1083.6,541.5 1079.8,551.7 1077.3,564.3 1073.5,572.0 1072.2,582.1 1067.2,592.2 1065.9,602.4 1060.8,612.5 1058.3,622.6 1053.2,630.3 1049.4,637.9 1048.1,650.5 1048.1,665.7 1047.3,680.0 1047.3,691.4 1043.5,700.9 1039.7,712.3 1032.1,721.8 1027.3,731.3 1020.7,737.0 1013.1,742.7 1005.5,748.4 1001.7,756.0 997.9,763.7 992.2,767.5 986.5,773.2 980.8,777.0 975.1,782.7 967.5,792.2 959.8,797.9 942.7,801.7 927.5,797.9 916.1,794.1 906.6,801.7 904.7,803.6 904.7,816.9 899.0,826.4 887.6,830.2 880.0,834.0 885.2,837.1 873.8,840.9 866.2,844.7 864.3,851.4 868.1,855.2 862.4,859.9 854.8,864.7 847.2,869.4 839.6,875.1 833.9,875.1 830.1,870.4 822.5,875.1 814.9,878.0 805.4,882.7 797.8,879.9 788.3,878.9 780.7,873.2 773.1,869.4 769.3,863.7 763.6,852.3 759.8,844.7 754.1,837.1 748.4,827.6 745.5,820.0 744.5,818.8 741.6,809.3 736.9,801.7 729.3,794.1 721.7,786.5 714.1,778.9 704.6,771.3 695.1,765.6 687.5,760.8 685.6,756.0 681.7,753.2 672.2,752.2 657.0,751.3 647.5,749.4 638.0,747.5 628.5,745.6 619.0,742.7 609.5,738.9 600.0,735.1 596.2,727.5 586.7,721.8 581.0,716.1 576.2,711.4 571.4,718.0 563.8,727.5 554.3,735.1 546.7,740.8 539.1,742.7 531.5,738.9 522.0,737.0 515.4,738.9 512.5,733.2 506.8,724.7 505.9,733.2 504.9,740.8 497.3,743.7 489.7,738.9 483.0,731.3 482.1,721.8 478.3,712.3 477.3,700.9 480.2,700.0 482.1,690.1 484.0,682.5 482.1,676.8 476.4,671.1 470.7,667.3 463.1,665.4"/>
<polygon fill="#89c4ee" points="446.0,570.3 457.4,564.6 466.9,562.7 482.1,563.7 489.7,568.4 494.5,572.2 491.6,576.0 478.3,576.4 463.1,576.0 451.7,575.1"/>
<polygon fill="#6bb3e7" points="959.6,225.3 981.8,228.5 1000.8,238.0 1016.7,250.7 1029.3,272.9 1038.8,291.9 1048.3,310.9 1056.3,329.9 1064.2,348.9 1072.1,364.8 1076.9,383.8 1080.0,406.0 1083.2,431.3 1084.1,445.2 1085.7,465.5 1085.7,485.8 1083.6,503.5 1079.8,513.6 1078.6,526.3 1076.0,536.5 1071.0,546.6 1071.0,561.8 1067.2,572.0 1065.9,582.1 1059.5,594.8 1058.3,607.4 1051.9,617.6 1050.7,627.7 1043.1,637.9 1035.5,650.5 1030.4,660.7 1022.8,670.8 1015.9,680.0 1011.2,687.6 1003.6,693.3 997.9,698.1 986.5,699.0 982.7,704.7 975.1,708.5 963.7,712.3 956.0,716.1 944.6,719.9 937.0,723.7 927.5,727.5 918.0,733.2 908.5,738.9 902.8,742.7 900.9,746.5 904.7,756.0 904.7,765.6 902.8,775.1 904.7,786.5 900.9,794.1 891.4,797.9 883.3,801.7 879.5,798.8 873.8,794.1 871.9,786.5 866.2,780.8 860.5,775.1 851.0,773.2 844.3,769.4 843.3,761.7 849.0,756.0 856.7,753.2 866.2,748.4 870.0,740.8 873.8,735.1 878.5,727.5 883.3,719.9 889.0,716.1 893.7,710.4 895.6,704.7 902.4,700.0 907.5,691.1 915.1,683.5 920.1,673.3 925.2,660.7 929.0,650.5 931.5,637.9 932.8,625.2 937.9,615.0 942.9,604.9 946.7,592.2 951.8,580.8 958.1,572.0 963.2,561.8 967.0,551.7 972.1,541.5 971.6,531.4 967.8,520.0 966.9,509.6 962.2,498.4 961.9,487.3 961.9,468.7 962.2,450.1 962.6,431.5 961.3,416.7 956.7,401.8 947.4,390.6 938.1,375.8 927.8,361.8 915.8,347.9 906.5,334.9 898.0,320.0 889.9,304.6 893.1,279.2 903.0,260.0 915.3,244.4 926.0,237.0 937.4,231.7 948.0,227.5"/>
<polygon fill="#6bb3e7" points="717.9,656.8 731.2,655.9 736.9,660.6 750.2,661.2 757.8,665.4 765.4,661.6 771.1,657.8 778.7,667.3 790.1,674.9 798.0,682.0 801.5,689.5 797.7,691.4 793.9,696.2 786.3,699.0 778.7,702.8 771.1,704.7 761.6,706.6 757.8,710.4 750.2,711.4 746.4,706.6 736.9,702.8 725.5,700.9 717.9,695.2 715.0,687.6 714.1,680.0 714.1,671.1"/>
<polygon fill="#6bb3e7" points="695.1,728.5 698.9,721.8 703.6,717.1 704.6,711.4 710.3,715.2 717.9,716.1 723.6,721.8 733.1,724.7 740.7,726.6 738.8,730.4 731.2,732.3 725.5,736.1 717.9,737.0 708.4,740.8 698.9,741.2 694.7,737.0"/>
<polygon fill="#6bb3e7" points="828.1,801.7 835.7,799.8 841.4,805.5 847.1,813.1 852.9,818.8 855.7,824.5 855.7,834.0 852.9,839.7 849.1,841.9 844.4,845.7 844.4,840.9 838.7,837.1 838.7,830.5 833.8,824.5 832.9,815.0 829.1,809.3"/>
</g>
<g fill="none" stroke="#4a2a0c" stroke-width="1.8" stroke-linejoin="round" stroke-linecap="round">
<polygon points="416.0,439.9 417.9,439.0 423.6,444.7 428.0,449.0 426.8,450.4 420.8,445.6 416.6,441.4"/>
<polygon points="410.4,400.9 413.5,399.1 418.7,399.8 421.9,401.7 420.0,405.6 419.3,410.8 420.0,416.0 417.4,418.1 414.8,416.0 414.8,409.5 412.2,405.6"/>
<polygon points="323.8,458.9 326.7,457.0 330.5,459.9 333.7,463.7 332.9,466.5 328.6,464.6 324.8,461.8"/>
<polygon points="336.7,477.9 339.0,475.1 344.7,475.1 351.4,476.0 358.0,477.0 365.6,475.7 370.4,477.9 375.1,481.7 378.9,478.9 382.7,481.7 386.5,486.5 391.3,491.3 396.0,495.1 395.7,502.7 394.1,510.3 396.0,517.9 393.2,524.5 389.4,530.2 386.5,535.0 380.8,538.8 376.1,537.8 373.2,533.1 368.5,527.4 365.6,521.7 363.7,515.0 359.0,510.3 357.1,503.6 354.2,497.0 350.4,491.3 345.7,485.6 341.9,480.8 338.1,479.8"/>
<polygon points="412.2,473.2 417.0,472.2 422.7,474.1 425.5,478.9 423.6,484.6 419.8,489.4 415.1,487.5 410.9,483.7 409.4,478.9"/>
<polygon points="466.4,495.1 470.2,494.1 474.0,497.9 478.7,503.6 483.5,509.3 487.3,515.0 485.8,515.6 480.6,510.3 474.9,505.5 470.2,500.8 466.8,497.3"/>
<polygon points="497.8,517.9 500.6,516.3 504.4,521.7 507.3,527.4 507.8,532.1 505.4,531.2 501.6,525.5 498.7,520.7"/>
<polygon points="480.6,520.7 485.4,522.6 491.1,526.4 495.9,530.2 500.6,534.0 507.3,537.8 513.9,542.6 518.7,548.3 521.1,554.9 520.6,562.5 515.8,559.7 510.1,554.9 505.4,553.0 504.4,548.3 499.7,545.4 494.9,540.7 491.1,539.7 487.3,543.5 482.5,549.2 476.8,553.6 477.8,546.4 479.7,539.7 481.6,533.1 481.2,526.4"/>
<polygon points="418.9,519.8 423.6,517.5 426.1,518.3 425.5,524.5 424.2,531.2 422.7,537.8 420.8,543.5 418.5,544.9 417.0,539.7 415.1,535.0 416.0,529.3 417.9,524.5"/>
<polygon points="431.2,521.7 433.1,520.2 434.6,522.6 433.7,525.5 431.8,524.5"/>
<polygon points="440.2,527.0 444.5,525.1 450.2,526.4 453.5,530.2 452.1,535.0 448.3,535.9 444.5,533.1 441.7,530.2"/>
<polygon points="526.3,448.5 530.1,446.2 533.9,450.4 537.7,455.1 539.6,459.9 538.6,465.6 535.8,469.4 531.0,472.2 527.2,473.8 523.4,471.9 520.6,468.4 522.5,463.7 524.4,458.0 524.9,453.2"/>
<polygon points="414.1,556.8 418.9,555.5 423.6,557.8 430.3,561.6 437.9,565.4 445.5,569.2 451.2,571.1 456.9,569.6 462.6,572.1 464.5,576.8 470.2,574.9 476.3,572.6 476.6,578.1 475.1,584.7 471.3,591.4 465.6,596.1 459.9,599.9 456.1,602.8 454.2,607.5 449.4,611.3 443.7,615.1 437.1,616.7 430.4,618.0 424.7,619.9 420.9,623.7 417.1,626.5 416.2,622.7 418.1,617.0 417.1,611.3 418.6,605.6 419.0,598.0 420.9,590.4 421.9,582.8 422.8,573.3 423.8,565.7 420.8,563.5 415.1,561.6"/>
<polygon points="447.5,614.2 451.3,612.3 454.8,614.2 455.5,618.9 453.2,623.7 449.8,626.5 446.0,628.1 444.7,623.7 445.6,618.0"/>
<polygon points="467.5,605.6 473.2,601.8 480.8,599.9 487.5,600.9 493.2,603.7 496.0,609.4 495.1,616.1 493.2,622.7 489.4,628.4 485.6,635.1 482.7,641.7 479.8,648.4 477.9,655.1 477.0,662.7 478.9,670.3 482.7,676.9 484.6,683.6 482.7,690.2 478.9,694.0 473.2,695.9 468.4,694.0 465.6,689.3 462.7,683.6 458.0,679.8 451.3,676.0 445.6,671.2 441.8,665.5 439.0,658.9 440.9,653.2 446.6,650.3 454.2,648.4 459.9,643.7 461.8,636.0 460.8,628.4 461.8,620.8 465.6,615.1 466.5,609.4"/>
<polygon points="517.9,587.6 520.7,586.6 521.7,591.4 520.7,598.0 519.8,607.5 520.2,617.0 518.8,624.6 515.0,631.3 510.3,636.0 505.5,641.7 501.7,649.4 497.9,657.9 494.1,666.5 489.4,674.1 485.6,677.9 484.6,672.2 486.5,664.6 488.4,655.1 487.8,651.3 491.3,645.6 496.0,637.9 500.8,630.3 504.6,622.7 508.4,615.1 512.2,607.5 515.0,598.0 516.3,591.4"/>
<polygon points="504.2,586.6 506.8,585.1 509.3,591.4 506.5,592.7 504.6,590.4"/>
<polygon points="511.2,655.1 515.0,651.3 519.8,647.5 525.5,643.7 531.2,641.7 535.9,641.4 540.7,643.7 545.4,646.5 547.3,650.3 546.4,655.1 547.9,660.8 544.5,662.7 540.7,664.6 536.9,667.4 531.2,668.7 524.5,669.3 518.8,668.4 514.1,665.5 510.6,660.8"/>
<polygon points="493.2,688.3 497.9,686.4 502.7,685.5 504.6,689.3 502.7,693.1 498.9,694.0 495.1,692.1"/>
<polygon points="551.1,687.8 554.9,687.0 558.2,689.3 558.7,693.1 556.8,695.4 553.0,694.0 550.6,691.2"/>
<polygon points="533.1,616.1 535.9,614.2 537.8,617.0 535.4,619.9 532.7,619.3"/>
<polygon points="534.0,574.3 537.6,576.7 541.4,579.6 547.1,582.4 551.9,584.3 557.6,581.5 563.3,580.5 567.1,585.3 569.2,592.3 568.3,599.9 569.2,607.5 572.1,613.2 575.9,618.9 578.7,625.6 579.7,633.2 580.6,637.9 577.8,636.0 574.9,637.0 574.0,641.7 571.1,637.0 568.3,632.2 570.2,639.8 569.6,647.5 565.4,644.6 560.6,642.7 557.8,638.9 556.8,632.2 554.9,625.6 554.9,617.0 555.9,609.4 553.0,603.7 548.3,602.8 543.5,603.7 540.7,598.0 539.7,591.4 537.8,584.7 535.9,579.0"/>
<polygon points="536.9,566.7 541.6,564.8 546.4,566.7 549.2,571.4 547.3,575.2 542.6,575.2 538.8,571.4"/>
<polygon points="554.9,564.8 557.8,563.8 560.6,568.6 561.6,572.4 559.3,572.9 556.8,569.1"/>
<polygon points="574.9,641.7 577.8,640.8 580.6,645.6 582.9,651.3 582.1,653.2 578.7,649.4 575.9,645.6"/>
<polygon points="532.9,521.7 540.5,523.2 551.9,524.0 565.2,522.6 574.8,521.3 579.5,523.6 583.3,528.3 585.2,533.1 590.0,535.4 594.7,539.7 593.8,546.4 592.8,554.0 593.8,561.6 595.7,570.2 597.6,577.8 599.5,585.4 603.3,590.1 605.6,594.9 604.2,597.7 599.5,593.9 593.8,592.0 586.2,593.9 580.5,591.1 575.7,587.3 571.0,581.6 567.1,575.9 563.3,570.2 567.1,565.4 568.1,562.5 563.3,561.6 557.6,555.9 552.9,550.2 548.1,546.4 543.4,541.6 538.6,535.9 535.8,530.2 533.9,525.5"/>
<polygon points="554.8,564.4 557.6,563.9 560.5,568.3 561.4,572.1 559.2,573.0 556.7,569.2"/>
<polygon points="593.9,639.8 597.7,633.2 601.5,627.5 603.0,634.1 601.9,641.7 603.0,649.4 601.5,655.1 598.7,650.3 595.8,645.6 593.0,643.7"/>
<polygon points="617.7,655.1 620.5,646.5 623.4,648.4 625.3,655.1 626.6,659.8 623.4,661.7 619.6,659.8"/>
<polygon points="614.4,666.5 616.7,661.7 618.3,664.6 617.1,670.3 614.8,671.2"/>
<polygon points="490.9,713.7 497.0,715.6 503.6,719.0 508.4,724.7 511.2,731.4 512.5,738.0 511.2,743.7 507.4,746.2 514.1,742.8 521.7,740.3 527.4,738.0 531.2,733.3 534.0,726.6 536.9,720.9 540.7,718.6 546.4,720.9 551.1,722.8 554.9,720.0 556.8,713.3 557.8,707.6 561.6,702.3 567.3,702.9 574.0,705.3 577.8,701.0 578.7,697.8 585.4,698.8 591.1,696.9 593.9,692.1 593.0,683.6 591.1,675.0 589.2,666.5 592.0,662.3 596.8,664.6 602.5,669.3 609.1,674.1 614.8,678.8 618.6,683.6 623.4,686.4 627.2,685.5 628.1,693.1 633.5,701.9 632.3,708.6 628.1,714.3 625.3,718.6 631.0,720.9 636.7,726.6 638.6,734.2 641.1,739.9 639.9,747.5 639.5,754.2 643.3,758.9 646.8,764.6 648.1,772.2 647.7,779.8 646.2,787.5 642.4,794.1 637.6,799.8 632.9,804.2 629.1,804.2 628.1,806.5 630.0,814.1 629.7,821.7 628.1,829.3 626.6,832.1 624.3,823.6 622.1,814.1 619.6,805.5 616.7,798.9 613.9,792.2 611.0,786.5 609.1,782.1 606.3,783.7 602.5,788.4 597.7,794.1 593.0,799.8 589.2,806.5 587.3,812.2 588.2,816.0 593.0,820.7 597.7,825.5 600.6,832.1 601.9,839.7 601.1,847.3 598.7,854.0 594.9,859.7 590.1,865.4 585.9,868.3 582.9,866.9 580.6,861.6 579.7,855.9 580.6,849.2 578.7,845.4 575.9,846.4 574.0,850.2 571.1,854.4 566.3,855.5 559.7,853.6 552.1,850.2 544.5,846.4 536.9,841.6 529.3,835.9 523.6,829.3 521.7,821.7 520.7,814.1 518.8,807.4 517.9,800.8 519.8,795.1 523.6,791.3 527.8,786.5 529.7,780.8 526.4,776.0 521.7,770.3 516.0,765.6 509.3,761.8 503.6,758.6 498.9,757.0 494.7,758.0 492.8,762.7 490.9,770.3 488.4,777.9 483.7,775.7 477.6,772.2 475.7,767.5 473.2,764.3 470.7,768.4 466.5,771.9 460.8,771.9 459.3,767.5 458.0,762.7 454.2,760.5 449.4,760.8 444.7,763.7 440.9,768.4 437.1,776.0 433.3,784.6 430.4,792.2 427.6,798.9 423.8,802.7 420.0,802.3 416.7,798.9 414.8,794.1 415.6,788.4 419.0,783.7 421.9,777.9 423.2,770.3 424.3,762.7 426.6,756.1 431.4,750.4 437.1,746.6 444.7,744.7 453.2,742.2 463.7,740.9 468.4,737.1 468.8,731.4 472.2,725.7 477.9,722.4 484.6,720.0"/>
<polygon points="603.4,790.3 606.3,789.0 608.2,795.1 607.2,800.8 606.3,803.6 604.4,798.9 602.5,794.1"/>
<polygon points="409.5,816.3 415.2,814.1 421.9,811.8 428.5,814.1 435.2,818.3 431.4,820.7 428.5,824.5 422.8,827.0 417.1,827.4 413.3,823.6 411.0,819.8"/>
<polygon points="458.6,778.3 461.8,777.0 465.6,777.9 466.2,780.8 462.7,782.7 459.3,783.3"/>
<polygon points="321.9,402.9 325.7,407.6 331.4,410.5 334.3,415.2 338.1,419.0 340.0,424.7 343.8,428.1 347.6,426.6 348.5,420.0 348.1,413.3 348.9,407.6 353.3,410.5 359.9,413.3 364.7,417.1 366.6,421.9 364.7,427.6 360.9,432.3 356.1,437.1 351.4,440.9 350.4,447.5 350.8,455.1 351.4,459.9 355.2,456.1 360.9,457.0 364.7,460.8 369.4,462.7 373.2,465.6 378.9,468.1 386.5,467.5 391.3,463.7 394.1,459.9 398.9,457.0 404.6,454.2 409.4,454.2 415.1,457.0 420.8,460.8 426.5,465.6 432.2,470.3 436.9,475.1 441.7,479.8 444.5,485.6 446.4,489.4 450.2,490.3 452.1,486.5 451.2,479.8 449.3,473.2 446.4,466.5 443.6,460.8 442.6,456.1 445.5,454.2 451.2,457.0 456.9,462.7 462.6,468.4 470.2,473.2 476.8,477.9 480.6,483.7 482.5,489.4 483.9,495.1 487.3,497.9 492.1,499.8 498.7,501.7 506.3,503.6 512.0,504.6 514.9,506.5 513.0,512.2 513.9,517.9 518.7,521.7 522.5,518.8 524.9,512.2 525.7,504.6 525.3,498.9 519.6,497.0 513.9,494.1 508.2,493.2 509.2,488.4 506.3,483.7 502.5,477.9 498.7,472.2 496.8,468.1 500.6,465.6 507.3,463.7 511.1,461.2 508.2,458.0 501.6,455.1 494.9,452.3 490.2,450.4 485.4,447.5 482.5,451.3 483.5,456.1 482.5,460.8 478.7,462.7 473.6,462.4 472.1,458.0 472.1,452.3 470.2,446.6 466.4,440.9 460.7,437.1 453.1,434.8 445.5,434.2 438.8,436.1 433.1,439.9 429.3,442.8 428.4,445.6 432.2,448.5 433.1,451.3 429.3,453.2 423.6,452.3 417.9,449.4 413.2,445.6 409.4,440.9 406.5,434.2 403.7,426.6 400.8,420.0 402.7,414.3 399.8,408.6 397.0,402.9 395.1,400.0 392.7,393.9 388.8,385.3 391.4,379.5 395.3,373.0 399.2,365.2 396.6,360.0 399.2,353.5 405.7,348.3 416.1,344.4 426.5,341.8 430.4,332.7 434.3,323.6 439.5,311.9 442.1,304.1 444.8,295.0 439.5,291.1 438.2,284.6 433.0,280.7 429.1,272.9 427.8,262.5 428.6,252.0 430.4,242.9 434.3,237.7 434.3,231.2 430.4,226.5 426.5,227.3 422.6,233.3 417.4,237.0 405.7,235.1 395.3,229.9 382.3,223.4 373.2,220.3 360.2,222.1 349.8,226.0 347.2,239.0 343.3,252.0 339.4,262.5 337.5,269.7 340.1,276.8 340.7,285.9 340.1,296.3 338.1,305.4 335.5,314.5 335.5,324.9 337.5,335.3 338.1,343.1 335.5,347.8 329.0,348.8 323.8,345.7 317.2,339.2 311.5,334.8 308.1,337.9 307.6,349.6 310.7,354.8 314.6,358.7 315.9,369.1 318.5,379.5 320.4,386.1"/>
<polygon points="407.9,114.4 411.1,109.6 413.6,112.8 410.4,118.2"/>
<polygon points="414.9,133.4 419.6,127.7 421.2,130.2 416.8,135.6"/>
<polygon points="387.3,183.4 391.1,181.5 395.9,184.1 396.5,188.8 391.1,187.2"/>
<polygon points="378.1,195.2 380.7,192.9 382.6,198.3 380.7,201.5 378.4,198.3"/>
<polygon points="410.1,209.4 413.3,203.1 417.4,200.9 418.7,204.7 414.9,208.8 411.7,211.6"/>
<polygon points="313.6,536.1 315.9,533.8 320.6,538.0 325.4,542.8 330.2,540.9 332.1,539.5 333.4,543.3 336.8,545.6 334.9,549.8 328.3,550.4 323.5,549.0 319.7,547.5 316.8,544.7 314.4,540.9"/>
<polygon points="313.6,552.3 315.9,551.0 319.7,553.2 323.1,557.0 323.1,562.7 320.6,565.6 317.8,566.5 316.3,561.8 314.9,557.0"/>
<polygon points="306.0,577.0 310.2,574.1 313.0,573.8 313.6,577.9 311.7,581.4 308.3,579.8"/>
<polygon points="307.9,622.6 312.1,617.9 315.9,618.8 319.3,620.7 316.8,624.5 312.1,626.4 308.7,627.0"/>
<polygon points="295.0,582.7 297.3,584.6 296.9,591.3 297.8,597.0 296.9,600.8 299.7,609.3 302.6,616.9 304.1,622.6 301.6,627.4 296.9,630.2 291.2,632.1 286.4,635.4 283.6,639.7 280.7,644.1 277.9,646.8 271.2,648.3 264.6,650.2 259.8,652.1 257.9,655.9 258.5,660.6 255.1,666.3 251.3,673.0 246.5,680.6 243.6,684.8 237.9,688.6 232.2,690.5 226.5,694.3 223.6,699.0 220.8,704.7 216.0,709.5 209.4,713.3 203.7,715.7 198.9,717.1 196.0,720.9 191.3,723.7 185.6,726.6 180.8,730.4 181.8,724.7 184.6,719.0 188.4,714.2 194.1,708.5 199.8,702.8 205.6,697.1 211.3,691.4 215.1,687.6 218.9,686.7 223.6,682.9 227.4,680.0 234.1,673.0 239.8,666.3 245.6,659.7 251.3,653.0 257.0,646.4 262.7,640.7 267.4,635.0 271.2,631.2 275.0,629.3 279.8,626.4 283.6,621.7 285.5,616.0 285.1,611.2 283.2,607.4 284.5,602.7 287.4,597.0 290.2,590.3 292.7,584.6"/>
<polygon points="183.7,734.2 186.5,732.9 188.4,736.1 187.5,739.3 184.6,739.3"/>
<polygon points="169.0,746.5 174.2,745.6 174.8,752.2 173.6,757.0 171.3,758.9 169.0,755.1"/>
<polygon points="173.2,786.5 177.0,782.7 182.7,781.7 184.6,784.6 183.1,789.3 178.9,790.6 175.1,793.1 173.2,790.3"/>
<polygon points="363.3,850.2 367.1,845.8 371.9,843.9 377.6,845.4 382.4,848.3 388.1,847.7 390.3,850.2 388.1,853.4 384.3,855.3 379.5,852.1 374.8,854.0 369.0,852.6 365.2,853.0"/>
<polygon points="60.0,902.7 76.0,902.7 82.8,902.4 89.5,900.8 95.2,896.1 99.9,889.4 95.2,886.6 91.4,880.9 93.3,875.2 98.0,871.4 100.9,868.5 102.8,871.4 109.4,871.4 114.2,866.6 117.0,860.9 121.8,856.2 125.6,849.5 127.5,842.9 127.6,841.6 133.3,835.9 139.0,830.2 144.7,823.5 149.5,815.9 154.2,807.4 157.1,801.7 159.9,799.4 161.8,802.6 160.9,811.2 159.5,817.8 164.7,815.9 168.5,811.2 171.3,805.5 174.2,801.3 178.0,800.2 181.8,802.6 182.7,808.3 185.6,814.0 191.3,817.8 197.9,820.7 202.7,825.4 204.6,831.1 203.7,835.9 201.4,839.7 202.7,845.4 201.7,851.1 195.1,854.0 204.5,852.9 212.1,851.0 216.8,848.6 220.6,846.1 223.5,850.5 225.4,855.2 220.6,858.1 216.8,859.0 218.7,862.4 225.4,860.5 231.1,858.1 236.8,857.5 242.5,859.0 247.3,862.8 250.1,867.6 255.8,870.4 262.5,873.3 269.1,876.1 275.8,876.5 280.5,877.1 283.4,880.9 282.8,886.6 278.6,891.3 272.0,894.8 264.4,897.0 256.8,899.3 250.1,899.9 243.5,898.0 236.8,897.0 232.1,900.8 229.6,906.5 233.0,911.3 237.8,915.1 243.5,918.9 248.2,922.7 250.1,926.5 247.3,929.4 240.6,931.3 233.0,932.8 226.3,934.1 220.6,935.1 214.9,934.1 210.2,932.2 205.4,931.3 202.6,934.1 200.7,938.9 196.9,941.7 194.6,944.6 196.9,948.4 201.6,952.2 205.4,956.9 209.2,962.6 206.4,965.5 201.6,965.9 196.9,961.7 194.0,965.5 189.3,965.5 181.7,965.9 173.1,966.4 178.8,969.3 183.6,973.1 189.3,977.8 190.2,981.6 186.4,985.4 189.3,989.2 195.0,992.1 200.7,994.9 201.6,1000.6 198.8,1001.6 204.5,1003.5 202.6,1007.3 207.3,1009.2 210.2,1012.1 212.1,1016.8 214.9,1021.6 218.7,1026.3 223.1,1031.1 224.0,1050.0 60.0,1050.0"/>
<polygon points="196.9,976.5 200.7,975.4 204.5,977.3 203.5,982.6 202.2,985.4 199.7,982.2 197.3,979.2"/>
<polygon points="310.6,892.3 313.8,889.8 318.6,887.5 323.3,885.2 327.1,882.2 330.0,881.4 332.2,885.6 330.0,889.0 326.2,889.8 322.4,891.7 317.6,894.8 312.9,895.5 310.6,894.2"/>
<polygon points="655.5,920.6 658.3,920.2 661.1,923.0 662.5,927.9 664.3,933.2 662.5,936.9 660.4,941.8 659.0,946.0 656.2,947.1 653.4,945.3 655.5,941.1 657.6,936.2 658.3,934.2 655.5,932.1 653.7,928.6 653.7,924.4"/>
<polygon points="649.9,946.7 651.3,946.0 653.7,950.9 654.8,955.1 653.4,955.8 651.3,951.6"/>
<polygon points="656.5,955.8 658.7,954.6 661.1,957.2 660.1,959.9 657.9,959.7"/>
<polygon points="590.7,962.0 592.3,961.1 595.5,965.5 597.9,971.1 601.1,976.0 600.2,977.8 596.5,976.7 593.7,975.3 593.5,970.4 591.8,966.2"/>
<polygon points="586.2,1008.7 588.6,1007.6 590.7,1009.0 589.3,1012.2 588.6,1016.0 587.2,1015.7 586.5,1011.5"/>
<polygon points="728.7,1031.7 732.2,1026.2 736.4,1022.0 741.2,1018.8 746.8,1017.8 750.3,1020.6 752.1,1024.1 751.0,1028.3 749.9,1031.7 749.9,1039.4 728.7,1039.4"/>
<polygon points="1040.9,772.7 1043.0,768.5 1045.8,765.7 1048.6,763.2 1049.3,767.1 1048.6,772.7 1046.5,778.3 1044.4,781.0 1042.0,781.3 1040.9,777.6"/>
<polygon points="1217.7,678.6 1219.4,673.7 1221.9,670.6 1224.7,669.5 1226.1,672.0 1224.2,674.8 1220.8,676.5 1218.7,678.6"/>
<polygon points="872.5,995.0 874.0,994.0 875.5,995.0 875.0,996.5 873.0,996.8"/>
<polyline points="76.0,902.7 80.0,905.6 82.8,911.3 84.7,917.9 85.7,924.6 87.6,928.4 83.8,930.9 79.0,930.3 76.0,929.0"/>
<polyline points="76.0,1003.5 80.0,999.7 83.8,996.3 88.5,997.4 93.3,995.9 95.2,990.2 95.2,984.5 97.1,978.8 99.0,973.1 98.0,965.5 99.0,957.9 99.9,949.3 101.8,942.7 104.7,937.9 109.4,934.1 114.2,930.9 120.8,933.2 126.5,930.3 133.2,929.4 140.8,932.8 145.6,929.4 151.3,930.3 158.9,929.7 166.5,930.3 174.1,931.3 181.7,933.2 187.4,936.0 193.1,938.9 197.8,939.8 200.7,938.9"/>
<polyline points="202.6,934.1 205.4,931.3 210.2,932.2 214.9,935.1 216.8,943.6 212.1,946.5 206.4,948.0 203.5,943.6 201.6,938.9 202.6,934.1"/>
<polyline points="203.0,937.0 214.9,939.8"/>
<polyline points="76.0,1015.9 79.0,1018.7 80.0,1020.6 77.1,1024.0 76.0,1024.8"/>
</g>
<g stroke="#000" stroke-opacity="0.56" stroke-width="1.9" stroke-dasharray="1.9 3.14" fill="none">
<line x1="121.0" y1="80" x2="121.0" y2="1031.5"/>
<line x1="220.4" y1="80" x2="220.4" y2="1031.5"/>
<line x1="319.9" y1="80" x2="319.9" y2="1031.5"/>
<line x1="419.3" y1="80" x2="419.3" y2="1031.5"/>
<line x1="518.8" y1="80" x2="518.8" y2="1031.5"/>
<line x1="618.2" y1="80" x2="618.2" y2="1031.5"/>
<line x1="717.6" y1="80" x2="717.6" y2="1031.5"/>
<line x1="817.1" y1="80" x2="817.1" y2="1031.5"/>
<line x1="916.5" y1="80" x2="916.5" y2="1031.5"/>
<line x1="1016.0" y1="80" x2="1016.0" y2="1031.5"/>
<line x1="1115.4" y1="80" x2="1115.4" y2="1031.5"/>
<line x1="1214.8" y1="80" x2="1214.8" y2="1031.5"/>
<line x1="1314.3" y1="80" x2="1314.3" y2="1031.5"/>
<line x1="1413.7" y1="80" x2="1413.7" y2="1031.5"/>
<line x1="78" y1="947.7" x2="1459" y2="947.7"/>
<line x1="78" y1="848.3" x2="1459" y2="848.3"/>
<line x1="78" y1="748.8" x2="1459" y2="748.8"/>
<line x1="78" y1="649.3" x2="1459" y2="649.3"/>
<line x1="78" y1="549.8" x2="1459" y2="549.8"/>
<line x1="78" y1="450.3" x2="1459" y2="450.3"/>
<line x1="78" y1="350.9" x2="1459" y2="350.9"/>
<line x1="78" y1="251.4" x2="1459" y2="251.4"/>
<line x1="78" y1="151.9" x2="1459" y2="151.9"/>
</g>
<g fill="none" stroke="#1a1a1a" stroke-opacity="0.7" stroke-width="0.5" stroke-linejoin="round">
<polyline points="962.8,296.6 981.2,316.6"/>
<polyline points="981.7,320.0 1007.1,390.7 1012.4,426.0 1015.3,486.1 1007.1,532.0 993.0,599.2 977.1,652.2 977.1,700.2 977.2,683.5 975.9,700.0"/>
<polyline points="984.2,320.0 1010.7,387.1 1016.0,443.7 1016.0,489.6 1010.7,539.1 998.3,588.6 989.5,638.0 982.4,680.4 966.5,700.2"/>
<polyline points="985.9,320.0 1016.0,390.7 1019.5,436.6 1026.6,482.5 1040.7,544.4 1028.3,578.0 1010.7,613.3 993.0,641.6 991.2,673.4 994.8,700.2 996.7,734.2 916.0,719.0 917.3,732.9 936.3,773.5"/>
<polyline points="987.7,320.0 1019.5,383.6 1035.4,424.2 1023.0,468.4 1016.0,503.7 1008.9,546.1 1016.0,567.3 1040.7,608.0 1024.8,638.0 1010.7,673.4 996.5,700.2 994.9,683.5 986.0,700.0"/>
<polyline points="989.5,320.0 1021.3,365.9 1026.6,376.5 1028.3,426.0 1030.1,468.4 1024.8,521.4 1010.7,560.3 993.0,595.6 961.2,645.1 940.0,652.2"/>
<polyline points="991.2,320.0 1024.8,390.7 1065.4,424.2 1065.4,546.1 1046.0,574.4 1016.0,613.3 985.9,684.0 975.3,700.2 986.0,686.0 994.9,700.0"/>
<polyline points="982.4,320.0 1014.2,394.2 1016.0,426.0 1018.4,471.9 1014.2,496.7 1001.8,549.7 975.3,585.0 940.0,620.4"/>
<polyline points="840.0,601.1 883.1,582.1 931.3,555.5 992.1,596.0 1065.6,649.3 1088.4,715.2 1118.8,790.0 1120.0,794.0 1056.5,847.0 1040.5,908.0 1012.5,863.0 971.5,883.0 954.0,818.0"/>
<polyline points="840.0,679.7 903.4,662.0 961.7,644.2 1017.4,547.9 1007.3,520.0"/>
<polyline points="840.0,694.9 862.8,682.2 905.9,659.4 976.9,585.9 1009.8,547.9 1017.4,520.0"/>
<polyline points="840.0,644.2 861.5,624.4 916.0,730.4 936.3,773.5"/>
<polyline points="840.0,662.0 862.8,665.8 886.9,694.9 875.5,738.0 847.6,743.1 840.0,738.0"/>
<polyline points="840.0,722.8 916.0,730.4 982.0,684.8 1017.4,613.8 1040.3,608.7 1014.9,555.5 1025.0,520.0"/>
<polyline points="866.6,768.4 941.4,744.3 990.8,753.2 987.0,682.2 1022.5,603.7"/>
<polyline points="440.0,504.7 468.5,510.4 510.3,486.7 560.0,485.3 579.5,485.3 602.9,500.3 627.9,500.3 627.9,490.2 622.9,489.8 638.1,470.4 662.9,470.4 677.7,440.8 687.9,515.9 682.6,530.6 691.0,559.3 672.9,610.2 639.6,611.2 618.7,613.1 573.1,611.2 529.4,609.3 478.0,599.8 440.0,597.9 330.0,590.0 130.0,585.0"/>
<polyline points="691.0,559.3 718.8,615.0 737.8,649.3 777.1,625.2 753.0,615.0"/>
<polyline points="691.4,554.3 737.1,649.5 777.1,624.8 752.4,615.2 817.1,628.6 931.4,554.3"/>
<polyline points="619.0,647.6 638.1,702.9 649.5,771.4 628.6,805.7 622.9,849.9"/>
<polyline points="600.0,683.8 693.3,676.2 714.3,664.8 862.9,624.8 885.7,691.4 847.6,742.9 803.8,718.1 828.6,821.0 782.9,815.2 761.9,744.8 748.6,782.9 737.1,849.9"/>
<polyline points="708.6,733.3 748.6,729.5 798.1,821.0 782.9,817.1 756.2,788.6 840.0,777.1 813.3,741.0 828.6,683.8 960.0,643.8 1041.9,542.9 1019.0,440.0"/>
<polyline points="600.0,733.3 714.3,779.0 798.1,805.7 866.7,828.6 916.2,849.9"/>
<polyline points="718.1,725.7 813.3,664.8 916.2,721.9 996.2,733.3 990.5,752.4 942.9,744.8 935.2,771.4 866.7,771.4 904.8,828.6 866.7,843.8"/>
<polyline points="782.9,678.1 836.2,801.9 824.8,790.5"/>
<polyline points="916.2,721.9 923.8,733.3 897.1,801.9 981.0,849.9"/>
<polyline points="1066.7,649.5 1038.1,607.6 1015.2,554.3 1041.9,542.9 1030.5,485.7 1026.7,440.0"/>
<polyline points="295.0,704.0 335.0,716.5 375.0,669.0 415.0,596.5"/>
<polyline points="340.0,489.0 470.0,509.0 468.5,510.4"/>
<polyline points="415.0,596.5 460.0,619.0 550.0,674.0 620.0,684.0 692.5,676.5 789.0,664.0"/>
<polyline points="410.0,679.0 495.0,689.0 515.0,676.5 490.0,664.0 470.0,619.0 425.0,614.0"/>
<polyline points="425.0,614.0 460.0,589.0 622.5,599.0 612.5,699.0 555.0,719.0 645.0,769.0 720.0,807.0"/>
<polyline points="415.0,596.5 470.0,619.0 510.0,679.0 537.5,694.0 520.0,699.0 450.0,769.0 410.0,789.0 415.0,804.0"/>
<polyline points="520.0,694.0 620.0,684.0 789.0,749.0"/>
<polyline points="405.0,753.0 430.0,678.0 460.0,613.0 480.0,633.0 500.0,668.0 510.0,675.5"/>
<polyline points="410.0,788.0 450.0,773.0 622.5,600.5 605.0,728.0 789.0,798.0"/>
<polyline points="520.0,693.0 537.5,695.5 515.0,713.0 789.0,858.0"/>
<polyline points="692.5,560.5 750.0,703.0 727.5,853.0 770.0,843.0 775.0,868.0 789.0,858.0"/>
<polyline points="692.5,560.5 715.0,633.0 775.0,625.5 735.0,648.0 710.0,588.0"/>
<polyline points="707.5,728.0 740.0,723.0 750.0,788.0 789.0,818.0"/>
<polyline points="789.0,743.0 762.5,743.0 727.5,853.0"/>
<polyline points="691.9,559.8 717.6,613.1 740.0,624.5"/>
<polyline points="691.9,559.8 696.7,575.1 725.2,632.1 740.0,670.1"/>
<polyline points="622.5,600.7 609.2,637.8 618.7,662.5 622.5,680.0"/>
<polyline points="622.5,600.7 573.1,624.5 531.3,645.4 498.9,664.4 487.5,680.0"/>
</g>
<g fill="#000">
<rect x="966.3" y="297.7" width="5.7" height="5.7" transform="rotate(-143.1 969.1 300.5)"/>
<rect x="954.6" y="289.0" width="5.7" height="5.7" transform="rotate(-144.9 957.4 291.8)"/>
<rect x="941.8" y="280.5" width="5.7" height="5.7" transform="rotate(-147.7 944.6 283.3)"/>
<rect x="929.2" y="272.9" width="5.7" height="5.7" transform="rotate(-150.5 932.1 275.8)"/>
<rect x="915.5" y="265.6" width="5.7" height="5.7" transform="rotate(-159.4 918.4 268.5)"/>
<rect x="902.1" y="262.7" width="5.7" height="5.7" transform="rotate(-170.4 905.0 265.6)"/>
<rect x="887.8" y="261.0" width="5.7" height="5.7" transform="rotate(-172.2 890.7 263.8)"/>
<rect x="872.4" y="258.6" width="5.7" height="5.7" transform="rotate(-172.3 875.2 261.5)"/>
<rect x="857.5" y="256.9" width="5.7" height="5.7" transform="rotate(-173.3 860.4 259.7)"/>
<rect x="842.7" y="255.1" width="5.7" height="5.7" transform="rotate(-174.9 845.5 258.0)"/>
<rect x="828.1" y="254.3" width="5.7" height="5.7" transform="rotate(167.5 830.9 257.1)"/>
<rect x="815.0" y="261.3" width="5.7" height="5.7" transform="rotate(151.9 817.8 264.1)"/>
<rect x="801.8" y="268.3" width="5.7" height="5.7" transform="rotate(151.9 804.7 271.1)"/>
<rect x="788.7" y="275.2" width="5.7" height="5.7" transform="rotate(151.9 791.6 278.1)"/>
<rect x="775.6" y="282.2" width="5.7" height="5.7" transform="rotate(152.7 778.5 285.1)"/>
<rect x="762.2" y="289.0" width="5.7" height="5.7" transform="rotate(159.4 765.0 291.8)"/>
<rect x="747.6" y="292.7" width="5.7" height="5.7" transform="rotate(167.0 750.5 295.6)"/>
<rect x="733.0" y="295.7" width="5.7" height="5.7" transform="rotate(169.9 735.9 298.5)"/>
<rect x="718.2" y="298.0" width="5.7" height="5.7" transform="rotate(-170.4 721.0 300.8)"/>
<rect x="705.4" y="291.0" width="5.7" height="5.7" transform="rotate(-170.8 708.2 293.8)"/>
<rect x="693.1" y="293.9" width="5.7" height="5.7" transform="rotate(151.2 696.0 296.8)"/>
<rect x="682.0" y="303.8" width="5.7" height="5.7" transform="rotate(139.8 684.9 306.7)"/>
<rect x="670.4" y="313.1" width="5.7" height="5.7" transform="rotate(153.4 673.2 316.0)"/>
<rect x="655.8" y="316.9" width="5.7" height="5.7" transform="rotate(165.8 658.6 319.8)"/>
<rect x="641.5" y="320.4" width="5.7" height="5.7" transform="rotate(163.9 644.4 323.3)"/>
<rect x="627.5" y="325.1" width="5.7" height="5.7" transform="rotate(149.9 630.4 327.9)"/>
<rect x="615.9" y="335.3" width="5.7" height="5.7" transform="rotate(139.8 618.7 338.2)"/>
<rect x="604.8" y="344.3" width="5.7" height="5.7" transform="rotate(131.2 607.6 347.2)"/>
<rect x="597.5" y="356.3" width="5.7" height="5.7" transform="rotate(114.5 600.3 359.1)"/>
<rect x="592.8" y="370.6" width="5.7" height="5.7" transform="rotate(106.7 595.7 373.4)"/>
<rect x="588.7" y="385.4" width="5.7" height="5.7" transform="rotate(103.0 591.6 388.3)"/>
<rect x="586.1" y="399.7" width="5.7" height="5.7" transform="rotate(100.9 589.0 402.6)"/>
<rect x="583.2" y="414.3" width="5.7" height="5.7" transform="rotate(102.4 586.1 417.2)"/>
<rect x="579.7" y="428.9" width="5.7" height="5.7" transform="rotate(118.2 582.6 431.7)"/>
<rect x="570.1" y="438.8" width="5.7" height="5.7" transform="rotate(150.4 572.9 441.7)"/>
<rect x="556.1" y="442.3" width="5.7" height="5.7" transform="rotate(116.2 558.9 445.2)"/>
<rect x="561.9" y="455.4" width="5.7" height="5.7" transform="rotate(61.6 564.8 458.3)"/>
<rect x="569.8" y="467.7" width="5.7" height="5.7" transform="rotate(57.4 572.6 470.5)"/>
<rect x="578.0" y="480.5" width="5.7" height="5.7" transform="rotate(58.0 580.8 483.3)"/>
<rect x="585.8" y="493.3" width="5.7" height="5.7" transform="rotate(57.6 588.7 496.2)"/>
<rect x="593.7" y="505.3" width="5.7" height="5.7" transform="rotate(45.0 596.6 508.1)"/>
<rect x="605.9" y="513.4" width="5.7" height="5.7" transform="rotate(31.1 608.8 516.3)"/>
<rect x="619.4" y="520.7" width="5.7" height="5.7" transform="rotate(28.8 622.2 523.6)"/>
<rect x="632.5" y="528.0" width="5.7" height="5.7" transform="rotate(28.6 635.3 530.9)"/>
<rect x="645.6" y="535.0" width="5.7" height="5.7" transform="rotate(27.3 648.4 537.9)"/>
<rect x="659.0" y="541.7" width="5.7" height="5.7" transform="rotate(22.2 661.9 544.6)"/>
<rect x="672.7" y="546.1" width="5.7" height="5.7" transform="rotate(16.6 675.6 548.9)"/>
<rect x="687.3" y="550.2" width="5.7" height="5.7" transform="rotate(17.0 690.1 553.0)"/>
<rect x="701.3" y="554.8" width="5.7" height="5.7" transform="rotate(21.8 704.1 557.7)"/>
<rect x="715.0" y="561.2" width="5.7" height="5.7" transform="rotate(30.3 717.8 564.1)"/>
<rect x="727.2" y="570.0" width="5.7" height="5.7" transform="rotate(35.9 730.1 572.8)"/>
<rect x="739.2" y="578.7" width="5.7" height="5.7" transform="rotate(37.7 742.0 581.6)"/>
<rect x="750.2" y="587.8" width="5.7" height="5.7" transform="rotate(57.6 753.1 590.6)"/>
<rect x="754.3" y="602.6" width="5.7" height="5.7" transform="rotate(75.0 757.2 605.5)"/>
<rect x="758.1" y="617.2" width="5.7" height="5.7" transform="rotate(73.0 761.0 620.1)"/>
<rect x="763.0" y="631.1" width="5.7" height="5.7" transform="rotate(85.1 765.9 634.0)"/>
<rect x="760.4" y="644.0" width="5.7" height="5.7" transform="rotate(76.5 763.3 646.8)"/>
<rect x="768.9" y="655.3" width="5.7" height="5.7" transform="rotate(49.9 771.7 658.2)"/>
<rect x="779.1" y="666.1" width="5.7" height="5.7" transform="rotate(45.0 781.9 669.0)"/>
<rect x="789.9" y="676.3" width="5.7" height="5.7" transform="rotate(32.7 792.7 679.2)"/>
<rect x="803.6" y="681.9" width="5.7" height="5.7" transform="rotate(22.0 806.4 684.7)"/>
<rect x="817.3" y="687.4" width="5.7" height="5.7" transform="rotate(22.8 820.1 690.3)"/>
<rect x="831.2" y="693.5" width="5.7" height="5.7" transform="rotate(23.3 834.1 696.4)"/>
<rect x="844.9" y="699.4" width="5.7" height="5.7" transform="rotate(24.8 847.8 702.2)"/>
<rect x="858.4" y="706.1" width="5.7" height="5.7" transform="rotate(27.3 861.2 708.9)"/>
<rect x="871.5" y="713.1" width="5.7" height="5.7" transform="rotate(34.3 874.3 715.9)"/>
<rect x="883.1" y="723.0" width="5.7" height="5.7" transform="rotate(40.7 886.0 725.8)"/>
<rect x="894.5" y="732.9" width="5.7" height="5.7" transform="rotate(40.7 897.4 735.7)"/>
<rect x="905.9" y="742.5" width="5.7" height="5.7" transform="rotate(37.3 908.7 745.3)"/>
<rect x="917.8" y="750.7" width="5.7" height="5.7" transform="rotate(34.2 920.7 753.5)"/>
<rect x="930.4" y="759.1" width="5.7" height="5.7" transform="rotate(33.4 933.2 762.0)"/>
<rect x="942.6" y="767.0" width="5.7" height="5.7" transform="rotate(32.9 945.5 769.8)"/>
<rect x="955.1" y="775.1" width="5.7" height="5.7" transform="rotate(35.1 958.0 778.0)"/>
<rect x="967.1" y="784.2" width="5.7" height="5.7" transform="rotate(41.1 969.9 787.0)"/>
<rect x="977.9" y="795.0" width="5.7" height="5.7" transform="rotate(106.3 980.7 797.8)"/>
<rect x="965.0" y="791.2" width="5.7" height="5.7" transform="rotate(-160.8 967.9 794.0)"/>
<rect x="951.1" y="785.6" width="5.7" height="5.7" transform="rotate(-158.9 953.9 788.5)"/>
<rect x="937.1" y="780.4" width="5.7" height="5.7" transform="rotate(-159.8 939.9 783.2)"/>
<rect x="923.4" y="775.4" width="5.7" height="5.7" transform="rotate(-160.3 926.2 778.3)"/>
<rect x="909.4" y="770.5" width="5.7" height="5.7" transform="rotate(-161.8 912.2 773.3)"/>
<rect x="900.3" y="767.9" width="5.7" height="5.7" transform="rotate(59.4 903.2 770.7)"/>
<rect x="913.2" y="776.9" width="5.7" height="5.7" transform="rotate(36.4 916.0 779.7)"/>
<rect x="924.8" y="785.9" width="5.7" height="5.7" transform="rotate(39.0 927.7 788.8)"/>
<rect x="936.2" y="795.6" width="5.7" height="5.7" transform="rotate(39.9 939.0 798.4)"/>
<rect x="947.8" y="805.2" width="5.7" height="5.7" transform="rotate(39.1 950.7 808.0)"/>
<rect x="959.5" y="814.5" width="5.7" height="5.7" transform="rotate(38.3 962.4 817.4)"/>
<rect x="971.5" y="823.8" width="5.7" height="5.7" transform="rotate(37.9 974.3 826.7)"/>
<rect x="983.1" y="832.9" width="5.7" height="5.7" transform="rotate(37.3 986.0 835.7)"/>
<rect x="994.8" y="841.6" width="5.7" height="5.7" transform="rotate(37.2 997.6 844.5)"/>
<rect x="1006.7" y="850.8" width="5.7" height="5.7" transform="rotate(37.7 1009.6 853.6)"/>
<rect x="1018.4" y="859.8" width="5.7" height="5.7" transform="rotate(38.2 1021.2 862.7)"/>
<rect x="1030.0" y="869.2" width="5.7" height="5.7" transform="rotate(39.1 1032.9 872.0)"/>
<rect x="1041.7" y="878.8" width="5.7" height="5.7" transform="rotate(39.1 1044.5 881.6)"/>
<rect x="1053.3" y="888.1" width="5.7" height="5.7" transform="rotate(38.2 1056.2 891.0)"/>
<rect x="1065.0" y="897.1" width="5.7" height="5.7" transform="rotate(38.2 1067.9 900.0)"/>
<rect x="1076.7" y="906.5" width="5.7" height="5.7" transform="rotate(38.2 1079.5 909.3)"/>
<rect x="1088.3" y="915.5" width="5.7" height="5.7" transform="rotate(37.8 1091.2 918.4)"/>
<rect x="1100.0" y="924.5" width="5.7" height="5.7" transform="rotate(37.8 1102.8 927.4)"/>
<rect x="1111.7" y="933.6" width="5.7" height="5.7" transform="rotate(37.3 1114.5 936.4)"/>
<rect x="1123.3" y="942.3" width="5.7" height="5.7" transform="rotate(33.5 1126.2 945.2)"/>
<rect x="1135.8" y="949.6" width="5.7" height="5.7" transform="rotate(14.7 1138.7 952.5)"/>
<rect x="1151.0" y="949.6" width="5.7" height="5.7" transform="rotate(0.0 1153.9 952.5)"/>
<rect x="1165.9" y="949.6" width="5.7" height="5.7" transform="rotate(0.6 1168.7 952.5)"/>
<rect x="1181.0" y="949.9" width="5.7" height="5.7" transform="rotate(2.2 1183.9 952.8)"/>
<rect x="1195.6" y="950.8" width="5.7" height="5.7" transform="rotate(3.4 1198.5 953.6)"/>
<rect x="1210.8" y="951.7" width="5.7" height="5.7" transform="rotate(4.4 1213.6 954.5)"/>
<rect x="1225.9" y="953.1" width="5.7" height="5.7" transform="rotate(6.2 1228.8 956.0)"/>
<rect x="1240.5" y="954.9" width="5.7" height="5.7" transform="rotate(8.1 1243.3 957.7)"/>
<rect x="1254.5" y="957.2" width="5.7" height="5.7" transform="rotate(9.3 1257.3 960.0)"/>
<rect x="1269.1" y="959.5" width="5.7" height="5.7" transform="rotate(8.9 1271.9 962.4)"/>
<rect x="1284.2" y="961.9" width="5.7" height="5.7" transform="rotate(9.5 1287.1 964.7)"/>
<rect x="1298.8" y="964.5" width="5.7" height="5.7" transform="rotate(10.2 1301.7 967.3)"/>
</g>
<circle cx="981.6" cy="316.6" r="13.7" fill="#000"/>
</g>
<rect x="76" y="78" width="1383" height="953.5" fill="none" stroke="#2a2a2a" stroke-width="1.9"/>
<text transform="translate(1213.05,986.70) scale(1.0269,1)" font-size="24" font-weight="bold" fill="#2e2e2e" stroke="#fff" stroke-opacity="0.75" stroke-width="5.5" stroke-linejoin="round" paint-order="stroke">Plot</text>
<text transform="translate(1266.51,986.70) scale(1.0686,1)" font-size="24" font-weight="bold" fill="#2e2e2e" stroke="#fff" stroke-opacity="0.75" stroke-width="5.5" stroke-linejoin="round" paint-order="stroke">by</text>
<text transform="translate(1304.22,986.70) scale(1.0479,1)" font-size="24" font-weight="bold" fill="#2e2e2e" stroke="#fff" stroke-opacity="0.75" stroke-width="5.5" stroke-linejoin="round" paint-order="stroke">Tomer</text>
<text transform="translate(1387.33,986.70) scale(1.0420,1)" font-size="24" font-weight="bold" fill="#2e2e2e" stroke="#fff" stroke-opacity="0.75" stroke-width="5.5" stroke-linejoin="round" paint-order="stroke">Burg</text>
<text transform="translate(1101.78,1018.30) scale(1.0809,1)" font-size="24.5" font-weight="bold" fill="#2e2e2e" stroke="#fff" stroke-opacity="0.75" stroke-width="5.5" stroke-linejoin="round" paint-order="stroke">www.polarwx.com/tropical/</text>
<rect x="1164.1" y="91.3" width="281.8" height="119.2" rx="5" ry="5" fill="#ffffff" fill-opacity="0.8" stroke="#cccccc" stroke-width="1.4"/>
<g fill="#000">
<rect x="1175" y="109" width="5.8" height="5.8"/>
<rect x="1189.8" y="109" width="5.8" height="5.8"/>
<rect x="1204.6" y="109" width="5.8" height="5.8"/>
<rect x="1219.6" y="109" width="5.8" height="5.8"/>
</g>
<line x1="1172.1" y1="148.7" x2="1230.1" y2="148.7" stroke="#0000ff" stroke-width="5.8"/>
<line x1="1172.1" y1="185.9" x2="1230.1" y2="185.9" stroke="#000" stroke-width="5.8"/>
<g fill="#000">
<text transform="translate(1247.84,120.20) scale(1.0626,1)" font-size="25" >Observed</text>
<text transform="translate(1369.23,120.20) scale(1.0198,1)" font-size="25" >Track</text>
<text transform="translate(1248.51,157.80) scale(1.0200,1)" font-size="25" >ECMWF</text>
<text transform="translate(1247.87,195.80) scale(1.0388,1)" font-size="25" >Ensemble</text>
<text transform="translate(1369.53,195.80) scale(1.0584,1)" font-size="25" >Mean</text>
</g>
<rect x="1473.3" y="983.83" width="40.6" height="48.17" fill="#d0e7fa"/>
<rect x="1473.3" y="936.15" width="40.6" height="48.17" fill="#bcdcf3"/>
<rect x="1473.3" y="888.48" width="40.6" height="48.17" fill="#a4cfef"/>
<rect x="1473.3" y="840.80" width="40.6" height="48.17" fill="#8ac2ec"/>
<rect x="1473.3" y="793.12" width="40.6" height="48.17" fill="#6fb2e7"/>
<rect x="1473.3" y="745.45" width="40.6" height="48.17" fill="#52a4e2"/>
<rect x="1473.3" y="697.78" width="40.6" height="48.17" fill="#56b3b0"/>
<rect x="1473.3" y="650.10" width="40.6" height="48.17" fill="#5bc080"/>
<rect x="1473.3" y="602.42" width="40.6" height="48.17" fill="#5fd04f"/>
<rect x="1473.3" y="554.75" width="40.6" height="48.17" fill="#86d94e"/>
<rect x="1473.3" y="507.08" width="40.6" height="48.17" fill="#a8e24e"/>
<rect x="1473.3" y="459.40" width="40.6" height="48.17" fill="#d0ec4d"/>
<rect x="1473.3" y="411.73" width="40.6" height="48.17" fill="#f7f54e"/>
<rect x="1473.3" y="364.05" width="40.6" height="48.17" fill="#f7dc4e"/>
<rect x="1473.3" y="316.38" width="40.6" height="48.17" fill="#f8c44f"/>
<rect x="1473.3" y="268.70" width="40.6" height="48.17" fill="#f9ab4e"/>
<rect x="1473.3" y="221.03" width="40.6" height="48.17" fill="#fb934d"/>
<rect x="1473.3" y="173.35" width="40.6" height="48.17" fill="#fc7c4c"/>
<rect x="1473.3" y="125.68" width="40.6" height="48.17" fill="#fb654c"/>
<rect x="1473.3" y="78.00" width="40.6" height="48.17" fill="#f24f4f"/>
<rect x="1473.3" y="78" width="40.6" height="953.5" fill="none" stroke="#262626" stroke-width="2"/>
<g stroke="#262626" stroke-width="1.6">
<line x1="1513.9" y1="1031.50" x2="1520.9" y2="1031.50"/>
<line x1="1513.9" y1="983.83" x2="1520.9" y2="983.83"/>
<line x1="1513.9" y1="936.15" x2="1520.9" y2="936.15"/>
<line x1="1513.9" y1="888.48" x2="1520.9" y2="888.48"/>
<line x1="1513.9" y1="840.80" x2="1520.9" y2="840.80"/>
<line x1="1513.9" y1="793.12" x2="1520.9" y2="793.12"/>
<line x1="1513.9" y1="745.45" x2="1520.9" y2="745.45"/>
<line x1="1513.9" y1="697.78" x2="1520.9" y2="697.78"/>
<line x1="1513.9" y1="650.10" x2="1520.9" y2="650.10"/>
<line x1="1513.9" y1="602.42" x2="1520.9" y2="602.42"/>
<line x1="1513.9" y1="554.75" x2="1520.9" y2="554.75"/>
<line x1="1513.9" y1="507.08" x2="1520.9" y2="507.08"/>
<line x1="1513.9" y1="459.40" x2="1520.9" y2="459.40"/>
<line x1="1513.9" y1="411.73" x2="1520.9" y2="411.73"/>
<line x1="1513.9" y1="364.05" x2="1520.9" y2="364.05"/>
<line x1="1513.9" y1="316.38" x2="1520.9" y2="316.38"/>
<line x1="1513.9" y1="268.70" x2="1520.9" y2="268.70"/>
<line x1="1513.9" y1="221.03" x2="1520.9" y2="221.03"/>
<line x1="1513.9" y1="173.35" x2="1520.9" y2="173.35"/>
<line x1="1513.9" y1="125.68" x2="1520.9" y2="125.68"/>
<line x1="1513.9" y1="78.00" x2="1520.9" y2="78.00"/>
</g>
<g fill="#000">
<text transform="translate(1527.49,992.33) scale(0.9850,1)" font-size="23" >5</text>
<text transform="translate(1526.67,944.65) scale(0.9850,1)" font-size="23" >10</text>
<text transform="translate(1526.67,896.98) scale(0.9850,1)" font-size="23" >15</text>
<text transform="translate(1527.26,849.30) scale(0.9850,1)" font-size="23" >20</text>
<text transform="translate(1527.26,801.62) scale(0.9850,1)" font-size="23" >25</text>
<text transform="translate(1527.54,753.95) scale(0.9850,1)" font-size="23" >30</text>
<text transform="translate(1527.54,706.28) scale(0.9850,1)" font-size="23" >35</text>
<text transform="translate(1527.88,658.60) scale(0.9850,1)" font-size="23" >40</text>
<text transform="translate(1527.88,610.92) scale(0.9850,1)" font-size="23" >45</text>
<text transform="translate(1527.49,563.25) scale(0.9850,1)" font-size="23" >50</text>
<text transform="translate(1527.49,515.58) scale(0.9850,1)" font-size="23" >55</text>
<text transform="translate(1527.25,467.90) scale(0.9850,1)" font-size="23" >60</text>
<text transform="translate(1527.25,420.23) scale(0.9850,1)" font-size="23" >65</text>
<text transform="translate(1527.24,372.55) scale(0.9850,1)" font-size="23" >70</text>
<text transform="translate(1527.24,324.88) scale(0.9850,1)" font-size="23" >75</text>
<text transform="translate(1527.42,277.20) scale(0.9850,1)" font-size="23" >80</text>
<text transform="translate(1527.42,229.53) scale(0.9850,1)" font-size="23" >85</text>
<text transform="translate(1527.34,181.85) scale(0.9850,1)" font-size="23" >90</text>
<text transform="translate(1527.32,134.18) scale(1.0026,1)" font-size="23" >95</text>
<text transform="translate(1527.91,86.50) scale(0.9629,1)" font-size="23" >100</text>
</g>
<g fill="#000">
<text transform="translate(94.05,1057.60) scale(0.8260,1)" font-size="23" >116°E</text>
<text transform="translate(192.53,1057.60) scale(0.8409,1)" font-size="23" >118°E</text>
<text transform="translate(290.94,1057.60) scale(0.8924,1)" font-size="23" >120°E</text>
<text transform="translate(391.19,1057.60) scale(0.8642,1)" font-size="23" >122°E</text>
<text transform="translate(489.65,1057.60) scale(0.8858,1)" font-size="23" >124°E</text>
<text transform="translate(589.47,1057.60) scale(0.8708,1)" font-size="23" >126°E</text>
<text transform="translate(688.45,1057.60) scale(0.8841,1)" font-size="23" >128°E</text>
<text transform="translate(788.62,1057.60) scale(0.8991,1)" font-size="23" >130°E</text>
<text transform="translate(888.48,1057.60) scale(0.8692,1)" font-size="23" >132°E</text>
<text transform="translate(987.34,1057.60) scale(0.8924,1)" font-size="23" >134°E</text>
<text transform="translate(1087.16,1057.60) scale(0.8775,1)" font-size="23" >136°E</text>
<text transform="translate(1186.14,1057.60) scale(0.8924,1)" font-size="23" >138°E</text>
<text transform="translate(1285.01,1057.60) scale(0.9074,1)" font-size="23" >140°E</text>
<text transform="translate(1383.92,1057.60) scale(0.9007,1)" font-size="23" >142°E</text>
<text transform="translate(13.62,157.70) scale(1.0215,1)" font-size="23" >20°N</text>
<text transform="translate(17.55,257.18) scale(0.9421,1)" font-size="23" >18°N</text>
<text transform="translate(18.38,356.66) scale(0.9254,1)" font-size="23" >16°N</text>
<text transform="translate(17.55,456.14) scale(0.9421,1)" font-size="23" >14°N</text>
<text transform="translate(18.38,555.62) scale(0.9254,1)" font-size="23" >12°N</text>
<text transform="translate(15.79,655.10) scale(0.9777,1)" font-size="23" >10°N</text>
<text transform="translate(26.78,754.58) scale(1.0189,1)" font-size="23" >8°N</text>
<text transform="translate(26.60,854.06) scale(1.0237,1)" font-size="23" >6°N</text>
<text transform="translate(27.27,953.54) scale(1.0056,1)" font-size="23" >4°N</text>
</g>
<text transform="translate(76.48,34.50) scale(1.0486,1)" font-size="27.5" font-weight="bold" fill="#000">Tropical</text>
<text transform="translate(194.80,34.50) scale(1.0319,1)" font-size="27.5" font-weight="bold" fill="#000">Depression</text>
<text transform="translate(357.03,34.50) scale(1.0711,1)" font-size="27.5" font-weight="bold" fill="#000">Nokaen</text>
<text transform="translate(472.71,34.50) scale(0.9023,1)" font-size="27.5" font-weight="bold" fill="#000">•</text>
<text transform="translate(490.03,34.50) scale(0.9633,1)" font-size="27.5" font-weight="bold" fill="#000">EPS</text>
<text transform="translate(551.78,34.50) scale(1.0301,1)" font-size="27.5" font-weight="bold" fill="#000">Track</text>
<text transform="translate(635.84,34.50) scale(1.0673,1)" font-size="27.5" font-weight="bold" fill="#000">Density</text>
<text transform="translate(75.42,65.00) scale(1.1541,1)" font-size="23" fill="#3d3d3d">Probability</text>
<text transform="translate(208.17,65.00) scale(1.2713,1)" font-size="23" fill="#3d3d3d">of</text>
<text transform="translate(239.95,65.00) scale(1.1732,1)" font-size="23" fill="#3d3d3d">center</text>
<text transform="translate(322.13,65.00) scale(1.2068,1)" font-size="23" fill="#3d3d3d">location</text>
<text transform="translate(425.34,65.00) scale(1.2033,1)" font-size="23" fill="#3d3d3d">within</text>
<text transform="translate(501.80,65.00) scale(1.2012,1)" font-size="23" fill="#3d3d3d">150-km</text>
<text transform="translate(1040.74,67.40) scale(1.0208,1)" font-size="25" fill="#000">Initialized:</text>
<text transform="translate(1157.69,67.40) scale(1.1330,1)" font-size="25" fill="#000">0000</text>
<text transform="translate(1226.78,67.40) scale(0.9423,1)" font-size="25" fill="#000">UTC</text>
<text transform="translate(1280.76,67.40) scale(0.8251,1)" font-size="25" fill="#000">21</text>
<text transform="translate(1311.34,67.40) scale(0.9288,1)" font-size="25" fill="#000">January</text>
<text transform="translate(1401.80,67.40) scale(1.0327,1)" font-size="25" fill="#000">2026</text>
</svg>
</body></html>
